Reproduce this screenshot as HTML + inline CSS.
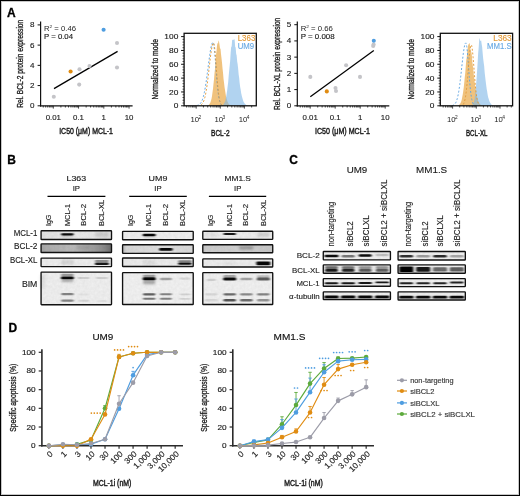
<!DOCTYPE html>
<html><head><meta charset="utf-8"><style>
html,body{margin:0;padding:0;background:#fff;}
body{width:520px;height:496px;overflow:hidden;}
svg{display:block;font-family:"Liberation Sans", sans-serif;will-change:transform;}
</style></head><body>
<svg width="520" height="496" viewBox="0 0 520 496">
<defs><filter id="bl" x="-50%" y="-300%" width="200%" height="700%"><feGaussianBlur stdDeviation="0.9 0.65"/></filter><filter id="bl2" x="-50%" y="-300%" width="200%" height="700%"><feGaussianBlur stdDeviation="1.2 1.0"/></filter><filter id="tex" x="0" y="0" width="100%" height="100%"><feTurbulence type="fractalNoise" baseFrequency="0.35" numOctaves="2" seed="4"/><feColorMatrix values="0 0 0 0 0  0 0 0 0 0  0 0 0 0 0  0 0 0 0.18 0"/><feComposite in2="SourceGraphic" operator="in"/></filter></defs>
<rect x="0" y="0" width="520" height="496" fill="#fff"/>
<text x="7.10" y="17.30" font-size="12.0" text-anchor="start" fill="#000" font-weight="bold" stroke="#000" stroke-width="0.3">A</text>
<text x="7.20" y="164.40" font-size="12.0" text-anchor="start" fill="#000" font-weight="bold" stroke="#000" stroke-width="0.3">B</text>
<text x="289.20" y="164.40" font-size="12.0" text-anchor="start" fill="#000" font-weight="bold" stroke="#000" stroke-width="0.3">C</text>
<text x="8.40" y="331.70" font-size="12.0" text-anchor="start" fill="#000" font-weight="bold" stroke="#000" stroke-width="0.3">D</text>
<line x1="40.60" y1="21.60" x2="40.60" y2="106.40" stroke="#111" stroke-width="1.2"/>
<line x1="40.00" y1="105.80" x2="132.60" y2="105.80" stroke="#111" stroke-width="1.2"/>
<line x1="37.60" y1="105.80" x2="40.60" y2="105.80" stroke="#111" stroke-width="1"/>
<text x="34.60" y="108.20" font-size="8.1" text-anchor="end" fill="#1c1c1c" font-weight="normal" textLength="4.50" lengthAdjust="spacingAndGlyphs" stroke="#1c1c1c" stroke-width="0.14">0</text>
<line x1="37.60" y1="85.57" x2="40.60" y2="85.57" stroke="#111" stroke-width="1"/>
<text x="34.60" y="87.97" font-size="8.1" text-anchor="end" fill="#1c1c1c" font-weight="normal" textLength="4.50" lengthAdjust="spacingAndGlyphs" stroke="#1c1c1c" stroke-width="0.14">2</text>
<line x1="37.60" y1="65.35" x2="40.60" y2="65.35" stroke="#111" stroke-width="1"/>
<text x="34.60" y="67.75" font-size="8.1" text-anchor="end" fill="#1c1c1c" font-weight="normal" textLength="4.50" lengthAdjust="spacingAndGlyphs" stroke="#1c1c1c" stroke-width="0.14">4</text>
<line x1="37.60" y1="45.12" x2="40.60" y2="45.12" stroke="#111" stroke-width="1"/>
<text x="34.60" y="47.52" font-size="8.1" text-anchor="end" fill="#1c1c1c" font-weight="normal" textLength="4.50" lengthAdjust="spacingAndGlyphs" stroke="#1c1c1c" stroke-width="0.14">6</text>
<line x1="37.60" y1="24.90" x2="40.60" y2="24.90" stroke="#111" stroke-width="1"/>
<text x="34.60" y="27.30" font-size="8.1" text-anchor="end" fill="#1c1c1c" font-weight="normal" textLength="4.50" lengthAdjust="spacingAndGlyphs" stroke="#1c1c1c" stroke-width="0.14">8</text>
<line x1="43.25" y1="105.80" x2="43.25" y2="107.50" stroke="#111" stroke-width="0.8"/>
<line x1="45.70" y1="105.80" x2="45.70" y2="107.50" stroke="#111" stroke-width="0.8"/>
<line x1="47.70" y1="105.80" x2="47.70" y2="107.50" stroke="#111" stroke-width="0.8"/>
<line x1="49.39" y1="105.80" x2="49.39" y2="107.50" stroke="#111" stroke-width="0.8"/>
<line x1="50.85" y1="105.80" x2="50.85" y2="107.50" stroke="#111" stroke-width="0.8"/>
<line x1="52.14" y1="105.80" x2="52.14" y2="107.50" stroke="#111" stroke-width="0.8"/>
<line x1="53.30" y1="105.80" x2="53.30" y2="108.60" stroke="#111" stroke-width="0.8"/>
<line x1="60.90" y1="105.80" x2="60.90" y2="107.50" stroke="#111" stroke-width="0.8"/>
<line x1="65.35" y1="105.80" x2="65.35" y2="107.50" stroke="#111" stroke-width="0.8"/>
<line x1="68.50" y1="105.80" x2="68.50" y2="107.50" stroke="#111" stroke-width="0.8"/>
<line x1="70.95" y1="105.80" x2="70.95" y2="107.50" stroke="#111" stroke-width="0.8"/>
<line x1="72.95" y1="105.80" x2="72.95" y2="107.50" stroke="#111" stroke-width="0.8"/>
<line x1="74.64" y1="105.80" x2="74.64" y2="107.50" stroke="#111" stroke-width="0.8"/>
<line x1="76.10" y1="105.80" x2="76.10" y2="107.50" stroke="#111" stroke-width="0.8"/>
<line x1="77.39" y1="105.80" x2="77.39" y2="107.50" stroke="#111" stroke-width="0.8"/>
<line x1="78.55" y1="105.80" x2="78.55" y2="108.60" stroke="#111" stroke-width="0.8"/>
<line x1="86.15" y1="105.80" x2="86.15" y2="107.50" stroke="#111" stroke-width="0.8"/>
<line x1="90.60" y1="105.80" x2="90.60" y2="107.50" stroke="#111" stroke-width="0.8"/>
<line x1="93.75" y1="105.80" x2="93.75" y2="107.50" stroke="#111" stroke-width="0.8"/>
<line x1="96.20" y1="105.80" x2="96.20" y2="107.50" stroke="#111" stroke-width="0.8"/>
<line x1="98.20" y1="105.80" x2="98.20" y2="107.50" stroke="#111" stroke-width="0.8"/>
<line x1="99.89" y1="105.80" x2="99.89" y2="107.50" stroke="#111" stroke-width="0.8"/>
<line x1="101.35" y1="105.80" x2="101.35" y2="107.50" stroke="#111" stroke-width="0.8"/>
<line x1="102.64" y1="105.80" x2="102.64" y2="107.50" stroke="#111" stroke-width="0.8"/>
<line x1="103.80" y1="105.80" x2="103.80" y2="108.60" stroke="#111" stroke-width="0.8"/>
<line x1="111.40" y1="105.80" x2="111.40" y2="107.50" stroke="#111" stroke-width="0.8"/>
<line x1="115.85" y1="105.80" x2="115.85" y2="107.50" stroke="#111" stroke-width="0.8"/>
<line x1="119.00" y1="105.80" x2="119.00" y2="107.50" stroke="#111" stroke-width="0.8"/>
<line x1="121.45" y1="105.80" x2="121.45" y2="107.50" stroke="#111" stroke-width="0.8"/>
<line x1="123.45" y1="105.80" x2="123.45" y2="107.50" stroke="#111" stroke-width="0.8"/>
<line x1="125.14" y1="105.80" x2="125.14" y2="107.50" stroke="#111" stroke-width="0.8"/>
<line x1="126.60" y1="105.80" x2="126.60" y2="107.50" stroke="#111" stroke-width="0.8"/>
<line x1="127.89" y1="105.80" x2="127.89" y2="107.50" stroke="#111" stroke-width="0.8"/>
<line x1="129.05" y1="105.80" x2="129.05" y2="108.60" stroke="#111" stroke-width="0.8"/>
<text x="53.30" y="119.80" font-size="8.1" text-anchor="middle" fill="#1c1c1c" font-weight="normal" textLength="15.29" lengthAdjust="spacingAndGlyphs" stroke="#1c1c1c" stroke-width="0.14">0.01</text>
<text x="78.55" y="119.80" font-size="8.1" text-anchor="middle" fill="#1c1c1c" font-weight="normal" textLength="10.92" lengthAdjust="spacingAndGlyphs" stroke="#1c1c1c" stroke-width="0.14">0.1</text>
<text x="103.80" y="119.80" font-size="8.1" text-anchor="middle" fill="#1c1c1c" font-weight="normal" textLength="4.37" lengthAdjust="spacingAndGlyphs" stroke="#1c1c1c" stroke-width="0.14">1</text>
<text x="129.05" y="119.80" font-size="8.1" text-anchor="middle" fill="#1c1c1c" font-weight="normal" textLength="8.74" lengthAdjust="spacingAndGlyphs" stroke="#1c1c1c" stroke-width="0.14">10</text>
<text x="86.10" y="133.60" font-size="9.2" text-anchor="middle" fill="#1c1c1c" font-weight="normal" textLength="53.80" lengthAdjust="spacingAndGlyphs" stroke="#1c1c1c" stroke-width="0.45">IC50 (μM) MCL-1</text>
<text x="23.40" y="63.80" font-size="8.9" text-anchor="middle" fill="#1c1c1c" font-weight="normal" textLength="88.00" lengthAdjust="spacingAndGlyphs" stroke="#1c1c1c" stroke-width="0.32" transform="rotate(-90 23.4 63.8)">Rel. BCL-2 protein expression</text>
<text x="44.00" y="30.6" font-size="7.1" fill="#1c1c1c" textLength="32" lengthAdjust="spacingAndGlyphs">R<tspan font-size="4.4" dy="-2.9">2</tspan><tspan dy="2.9"> = 0.46</tspan></text>
<text x="44.00" y="38.90" font-size="7.1" text-anchor="start" fill="#1c1c1c" font-weight="normal" textLength="29.00" lengthAdjust="spacingAndGlyphs" stroke="#1c1c1c" stroke-width="0.14">P = 0.04</text>
<line x1="54.00" y1="88.60" x2="117.60" y2="51.40" stroke="#000" stroke-width="1.25"/>
<circle cx="117.00" cy="43.00" r="2.05" fill="#C4C4C8"/>
<circle cx="117.00" cy="67.50" r="2.05" fill="#C4C4C8"/>
<circle cx="89.50" cy="66.00" r="2.05" fill="#C4C4C8"/>
<circle cx="79.50" cy="69.20" r="2.05" fill="#C4C4C8"/>
<circle cx="79.20" cy="84.60" r="2.05" fill="#C4C4C8"/>
<circle cx="53.80" cy="96.70" r="2.05" fill="#C4C4C8"/>
<circle cx="70.60" cy="71.50" r="2.05" fill="#E08C12"/>
<circle cx="103.60" cy="29.80" r="2.05" fill="#4E9DE0"/>
<line x1="297.30" y1="21.60" x2="297.30" y2="106.40" stroke="#111" stroke-width="1.2"/>
<line x1="296.70" y1="105.80" x2="389.30" y2="105.80" stroke="#111" stroke-width="1.2"/>
<line x1="294.30" y1="105.80" x2="297.30" y2="105.80" stroke="#111" stroke-width="1"/>
<text x="291.30" y="108.20" font-size="8.1" text-anchor="end" fill="#1c1c1c" font-weight="normal" textLength="4.50" lengthAdjust="spacingAndGlyphs" stroke="#1c1c1c" stroke-width="0.14">0</text>
<line x1="294.30" y1="89.58" x2="297.30" y2="89.58" stroke="#111" stroke-width="1"/>
<text x="291.30" y="91.98" font-size="8.1" text-anchor="end" fill="#1c1c1c" font-weight="normal" textLength="4.50" lengthAdjust="spacingAndGlyphs" stroke="#1c1c1c" stroke-width="0.14">1</text>
<line x1="294.30" y1="73.36" x2="297.30" y2="73.36" stroke="#111" stroke-width="1"/>
<text x="291.30" y="75.76" font-size="8.1" text-anchor="end" fill="#1c1c1c" font-weight="normal" textLength="4.50" lengthAdjust="spacingAndGlyphs" stroke="#1c1c1c" stroke-width="0.14">2</text>
<line x1="294.30" y1="57.14" x2="297.30" y2="57.14" stroke="#111" stroke-width="1"/>
<text x="291.30" y="59.54" font-size="8.1" text-anchor="end" fill="#1c1c1c" font-weight="normal" textLength="4.50" lengthAdjust="spacingAndGlyphs" stroke="#1c1c1c" stroke-width="0.14">3</text>
<line x1="294.30" y1="40.92" x2="297.30" y2="40.92" stroke="#111" stroke-width="1"/>
<text x="291.30" y="43.32" font-size="8.1" text-anchor="end" fill="#1c1c1c" font-weight="normal" textLength="4.50" lengthAdjust="spacingAndGlyphs" stroke="#1c1c1c" stroke-width="0.14">4</text>
<line x1="294.30" y1="24.70" x2="297.30" y2="24.70" stroke="#111" stroke-width="1"/>
<text x="291.30" y="27.10" font-size="8.1" text-anchor="end" fill="#1c1c1c" font-weight="normal" textLength="4.50" lengthAdjust="spacingAndGlyphs" stroke="#1c1c1c" stroke-width="0.14">5</text>
<line x1="300.25" y1="105.80" x2="300.25" y2="107.50" stroke="#111" stroke-width="0.8"/>
<line x1="302.67" y1="105.80" x2="302.67" y2="107.50" stroke="#111" stroke-width="0.8"/>
<line x1="304.65" y1="105.80" x2="304.65" y2="107.50" stroke="#111" stroke-width="0.8"/>
<line x1="306.33" y1="105.80" x2="306.33" y2="107.50" stroke="#111" stroke-width="0.8"/>
<line x1="307.78" y1="105.80" x2="307.78" y2="107.50" stroke="#111" stroke-width="0.8"/>
<line x1="309.06" y1="105.80" x2="309.06" y2="107.50" stroke="#111" stroke-width="0.8"/>
<line x1="310.20" y1="105.80" x2="310.20" y2="108.60" stroke="#111" stroke-width="0.8"/>
<line x1="317.73" y1="105.80" x2="317.73" y2="107.50" stroke="#111" stroke-width="0.8"/>
<line x1="322.13" y1="105.80" x2="322.13" y2="107.50" stroke="#111" stroke-width="0.8"/>
<line x1="325.25" y1="105.80" x2="325.25" y2="107.50" stroke="#111" stroke-width="0.8"/>
<line x1="327.67" y1="105.80" x2="327.67" y2="107.50" stroke="#111" stroke-width="0.8"/>
<line x1="329.65" y1="105.80" x2="329.65" y2="107.50" stroke="#111" stroke-width="0.8"/>
<line x1="331.33" y1="105.80" x2="331.33" y2="107.50" stroke="#111" stroke-width="0.8"/>
<line x1="332.78" y1="105.80" x2="332.78" y2="107.50" stroke="#111" stroke-width="0.8"/>
<line x1="334.06" y1="105.80" x2="334.06" y2="107.50" stroke="#111" stroke-width="0.8"/>
<line x1="335.20" y1="105.80" x2="335.20" y2="108.60" stroke="#111" stroke-width="0.8"/>
<line x1="342.73" y1="105.80" x2="342.73" y2="107.50" stroke="#111" stroke-width="0.8"/>
<line x1="347.13" y1="105.80" x2="347.13" y2="107.50" stroke="#111" stroke-width="0.8"/>
<line x1="350.25" y1="105.80" x2="350.25" y2="107.50" stroke="#111" stroke-width="0.8"/>
<line x1="352.67" y1="105.80" x2="352.67" y2="107.50" stroke="#111" stroke-width="0.8"/>
<line x1="354.65" y1="105.80" x2="354.65" y2="107.50" stroke="#111" stroke-width="0.8"/>
<line x1="356.33" y1="105.80" x2="356.33" y2="107.50" stroke="#111" stroke-width="0.8"/>
<line x1="357.78" y1="105.80" x2="357.78" y2="107.50" stroke="#111" stroke-width="0.8"/>
<line x1="359.06" y1="105.80" x2="359.06" y2="107.50" stroke="#111" stroke-width="0.8"/>
<line x1="360.20" y1="105.80" x2="360.20" y2="108.60" stroke="#111" stroke-width="0.8"/>
<line x1="367.73" y1="105.80" x2="367.73" y2="107.50" stroke="#111" stroke-width="0.8"/>
<line x1="372.13" y1="105.80" x2="372.13" y2="107.50" stroke="#111" stroke-width="0.8"/>
<line x1="375.25" y1="105.80" x2="375.25" y2="107.50" stroke="#111" stroke-width="0.8"/>
<line x1="377.67" y1="105.80" x2="377.67" y2="107.50" stroke="#111" stroke-width="0.8"/>
<line x1="379.65" y1="105.80" x2="379.65" y2="107.50" stroke="#111" stroke-width="0.8"/>
<line x1="381.33" y1="105.80" x2="381.33" y2="107.50" stroke="#111" stroke-width="0.8"/>
<line x1="382.78" y1="105.80" x2="382.78" y2="107.50" stroke="#111" stroke-width="0.8"/>
<line x1="384.06" y1="105.80" x2="384.06" y2="107.50" stroke="#111" stroke-width="0.8"/>
<line x1="385.20" y1="105.80" x2="385.20" y2="108.60" stroke="#111" stroke-width="0.8"/>
<text x="310.20" y="119.80" font-size="8.1" text-anchor="middle" fill="#1c1c1c" font-weight="normal" textLength="15.29" lengthAdjust="spacingAndGlyphs" stroke="#1c1c1c" stroke-width="0.14">0.01</text>
<text x="335.20" y="119.80" font-size="8.1" text-anchor="middle" fill="#1c1c1c" font-weight="normal" textLength="10.92" lengthAdjust="spacingAndGlyphs" stroke="#1c1c1c" stroke-width="0.14">0.1</text>
<text x="360.20" y="119.80" font-size="8.1" text-anchor="middle" fill="#1c1c1c" font-weight="normal" textLength="4.37" lengthAdjust="spacingAndGlyphs" stroke="#1c1c1c" stroke-width="0.14">1</text>
<text x="385.20" y="119.80" font-size="8.1" text-anchor="middle" fill="#1c1c1c" font-weight="normal" textLength="8.74" lengthAdjust="spacingAndGlyphs" stroke="#1c1c1c" stroke-width="0.14">10</text>
<text x="342.50" y="133.60" font-size="9.2" text-anchor="middle" fill="#1c1c1c" font-weight="normal" textLength="55.00" lengthAdjust="spacingAndGlyphs" stroke="#1c1c1c" stroke-width="0.45">IC50 (μM) MCL-1</text>
<text x="280.30" y="63.80" font-size="8.9" text-anchor="middle" fill="#1c1c1c" font-weight="normal" textLength="92.20" lengthAdjust="spacingAndGlyphs" stroke="#1c1c1c" stroke-width="0.32" transform="rotate(-90 280.3 63.8)">Rel. BCL-XL protein expression</text>
<text x="300.70" y="30.6" font-size="7.1" fill="#1c1c1c" textLength="32.2" lengthAdjust="spacingAndGlyphs">R<tspan font-size="4.4" dy="-2.9">2</tspan><tspan dy="2.9"> = 0.66</tspan></text>
<text x="300.70" y="38.90" font-size="7.1" text-anchor="start" fill="#1c1c1c" font-weight="normal" textLength="34.00" lengthAdjust="spacingAndGlyphs" stroke="#1c1c1c" stroke-width="0.14">P = 0.008</text>
<line x1="310.30" y1="96.70" x2="373.80" y2="50.40" stroke="#000" stroke-width="1.25"/>
<circle cx="373.20" cy="46.00" r="2.05" fill="#C4C4C8"/>
<circle cx="373.60" cy="44.60" r="2.05" fill="#C4C4C8"/>
<circle cx="346.10" cy="65.30" r="2.05" fill="#C4C4C8"/>
<circle cx="360.00" cy="76.90" r="2.05" fill="#C4C4C8"/>
<circle cx="310.30" cy="76.90" r="2.05" fill="#C4C4C8"/>
<circle cx="335.50" cy="88.00" r="2.05" fill="#C4C4C8"/>
<circle cx="336.00" cy="91.00" r="2.05" fill="#C4C4C8"/>
<circle cx="326.80" cy="91.40" r="2.05" fill="#E08C12"/>
<circle cx="373.80" cy="40.80" r="2.05" fill="#4E9DE0"/>
<path d="M207.51 105.80 L207.51 105.53 L208.01 105.34 L208.51 105.08 L209.01 104.67 L209.51 104.07 L210.01 103.33 L210.51 102.23 L211.01 100.42 L211.51 98.63 L212.01 96.09 L212.51 92.23 L213.01 88.84 L213.51 83.78 L214.01 79.22 L214.51 73.29 L215.01 68.68 L215.51 61.43 L216.01 54.90 L216.51 50.97 L217.01 45.78 L217.51 42.86 L218.01 43.70 L218.51 40.16 L219.01 41.68 L219.51 44.72 L220.01 48.51 L220.51 48.66 L221.01 54.34 L221.51 58.15 L222.01 62.66 L222.51 68.23 L223.01 72.78 L223.51 78.66 L224.01 82.40 L224.51 86.97 L225.01 89.99 L225.51 93.23 L226.01 96.46 L226.51 98.57 L227.01 100.27 L227.51 101.45 L228.01 102.72 L228.51 103.54 L229.01 104.23 L229.51 104.68 L230.01 105.04 L230.51 105.29 L231.01 105.45 L231.01 105.80 Z" fill="#E9A53F" fill-opacity="0.68" stroke="none"/>
<path d="M221.65 105.80 L221.65 105.51 L222.15 105.33 L222.65 105.07 L223.15 104.68 L223.65 104.13 L224.15 103.34 L224.65 102.35 L225.15 101.13 L225.65 99.05 L226.15 96.65 L226.65 93.77 L227.15 90.60 L227.65 86.34 L228.15 82.48 L228.65 76.18 L229.15 71.12 L229.65 66.11 L230.15 61.10 L230.65 52.83 L231.15 47.08 L231.65 46.46 L232.15 40.01 L232.65 39.64 L233.15 40.05 L233.65 39.72 L234.15 38.71 L234.65 40.30 L235.15 46.65 L235.65 47.62 L236.15 53.68 L236.65 55.48 L237.15 61.29 L237.65 64.31 L238.15 68.80 L238.65 74.49 L239.15 77.84 L239.65 83.09 L240.15 87.01 L240.65 89.61 L241.15 93.06 L241.65 95.37 L242.15 97.34 L242.65 99.03 L243.15 100.70 L243.65 101.91 L244.15 102.68 L244.65 103.55 L245.15 104.06 L245.65 104.54 L246.15 104.92 L246.65 105.17 L247.15 105.36 L247.65 105.49 L247.65 105.80 Z" fill="#7DB5E6" fill-opacity="0.6" stroke="none"/>
<path d="M196.83 105.53 L197.33 105.42 L197.83 105.27 L198.33 105.08 L198.83 104.83 L199.33 104.50 L199.83 104.09 L200.33 103.56 L200.83 102.89 L201.33 102.08 L201.83 101.08 L202.33 99.87 L202.83 98.43 L203.33 96.74 L203.83 94.78 L204.33 92.53 L204.83 89.98 L205.33 87.15 L205.83 84.03 L206.33 80.66 L206.83 77.06 L207.33 73.29 L207.83 69.41 L208.33 65.48 L208.83 61.59 L209.33 57.83 L209.83 54.29 L210.33 51.06 L210.83 48.23 L211.33 45.88 L211.83 44.08 L212.33 42.89 L212.83 42.34 L213.33 42.71 L213.83 44.85 L214.33 48.64 L214.83 53.76 L215.33 59.82 L215.83 66.36 L216.33 72.96 L216.83 79.25 L217.33 84.97 L217.83 89.94 L218.33 94.07 L218.83 97.38 L219.33 99.94 L219.83 101.83 L220.33 103.20 L220.83 104.14 L221.33 104.77 L221.83 105.18 L222.33 105.44" fill="none" stroke="#5CA2E2" stroke-width="0.95" stroke-dasharray="1.9 1.9" stroke-dashoffset="0"/>
<path d="M199.31 105.53 L199.81 105.40 L200.31 105.23 L200.81 104.99 L201.31 104.67 L201.81 104.24 L202.31 103.67 L202.81 102.94 L203.31 102.01 L203.81 100.83 L204.31 99.39 L204.81 97.64 L205.31 95.55 L205.81 93.09 L206.31 90.26 L206.81 87.05 L207.31 83.48 L207.81 79.59 L208.31 75.44 L208.81 71.10 L209.31 66.67 L209.81 62.27 L210.31 58.03 L210.81 54.08 L211.31 50.55 L211.81 47.58 L212.31 45.26 L212.81 43.70 L213.31 42.96 L213.81 43.28 L214.31 45.48 L214.81 49.42 L215.31 54.76 L215.81 61.04 L216.31 67.79 L216.81 74.53 L217.31 80.88 L217.81 86.56 L218.31 91.42 L218.81 95.38 L219.31 98.49 L219.81 100.84 L220.31 102.53 L220.81 103.72 L221.31 104.51 L221.81 105.03 L222.31 105.35" fill="none" stroke="#E39A38" stroke-width="0.95" stroke-dasharray="1.9 1.9" stroke-dashoffset="1.9"/>
<rect x="184.1" y="33.3" width="72.20000000000002" height="72.5" fill="none" stroke="#111" stroke-width="1.3"/>
<line x1="181.10" y1="105.80" x2="184.10" y2="105.80" stroke="#111" stroke-width="1.0"/>
<text x="178.30" y="108.45" font-size="7.4" text-anchor="end" fill="#1c1c1c" font-weight="normal" textLength="4.65" lengthAdjust="spacingAndGlyphs" stroke="#1c1c1c" stroke-width="0.14">0</text>
<line x1="182.50" y1="103.03" x2="184.10" y2="103.03" stroke="#111" stroke-width="0.7"/>
<line x1="182.50" y1="100.26" x2="184.10" y2="100.26" stroke="#111" stroke-width="0.7"/>
<line x1="182.50" y1="97.50" x2="184.10" y2="97.50" stroke="#111" stroke-width="0.7"/>
<line x1="182.50" y1="94.73" x2="184.10" y2="94.73" stroke="#111" stroke-width="0.7"/>
<line x1="181.10" y1="91.96" x2="184.10" y2="91.96" stroke="#111" stroke-width="1.0"/>
<text x="178.30" y="94.61" font-size="7.4" text-anchor="end" fill="#1c1c1c" font-weight="normal" textLength="9.30" lengthAdjust="spacingAndGlyphs" stroke="#1c1c1c" stroke-width="0.14">20</text>
<line x1="182.50" y1="89.19" x2="184.10" y2="89.19" stroke="#111" stroke-width="0.7"/>
<line x1="182.50" y1="86.42" x2="184.10" y2="86.42" stroke="#111" stroke-width="0.7"/>
<line x1="182.50" y1="83.66" x2="184.10" y2="83.66" stroke="#111" stroke-width="0.7"/>
<line x1="182.50" y1="80.89" x2="184.10" y2="80.89" stroke="#111" stroke-width="0.7"/>
<line x1="181.10" y1="78.12" x2="184.10" y2="78.12" stroke="#111" stroke-width="1.0"/>
<text x="178.30" y="80.77" font-size="7.4" text-anchor="end" fill="#1c1c1c" font-weight="normal" textLength="9.30" lengthAdjust="spacingAndGlyphs" stroke="#1c1c1c" stroke-width="0.14">40</text>
<line x1="182.50" y1="75.35" x2="184.10" y2="75.35" stroke="#111" stroke-width="0.7"/>
<line x1="182.50" y1="72.58" x2="184.10" y2="72.58" stroke="#111" stroke-width="0.7"/>
<line x1="182.50" y1="69.82" x2="184.10" y2="69.82" stroke="#111" stroke-width="0.7"/>
<line x1="182.50" y1="67.05" x2="184.10" y2="67.05" stroke="#111" stroke-width="0.7"/>
<line x1="181.10" y1="64.28" x2="184.10" y2="64.28" stroke="#111" stroke-width="1.0"/>
<text x="178.30" y="66.93" font-size="7.4" text-anchor="end" fill="#1c1c1c" font-weight="normal" textLength="9.30" lengthAdjust="spacingAndGlyphs" stroke="#1c1c1c" stroke-width="0.14">60</text>
<line x1="182.50" y1="61.51" x2="184.10" y2="61.51" stroke="#111" stroke-width="0.7"/>
<line x1="182.50" y1="58.74" x2="184.10" y2="58.74" stroke="#111" stroke-width="0.7"/>
<line x1="182.50" y1="55.98" x2="184.10" y2="55.98" stroke="#111" stroke-width="0.7"/>
<line x1="182.50" y1="53.21" x2="184.10" y2="53.21" stroke="#111" stroke-width="0.7"/>
<line x1="181.10" y1="50.44" x2="184.10" y2="50.44" stroke="#111" stroke-width="1.0"/>
<text x="178.30" y="53.09" font-size="7.4" text-anchor="end" fill="#1c1c1c" font-weight="normal" textLength="9.30" lengthAdjust="spacingAndGlyphs" stroke="#1c1c1c" stroke-width="0.14">80</text>
<line x1="182.50" y1="47.67" x2="184.10" y2="47.67" stroke="#111" stroke-width="0.7"/>
<line x1="182.50" y1="44.90" x2="184.10" y2="44.90" stroke="#111" stroke-width="0.7"/>
<line x1="182.50" y1="42.14" x2="184.10" y2="42.14" stroke="#111" stroke-width="0.7"/>
<line x1="182.50" y1="39.37" x2="184.10" y2="39.37" stroke="#111" stroke-width="0.7"/>
<line x1="181.10" y1="36.60" x2="184.10" y2="36.60" stroke="#111" stroke-width="1.0"/>
<text x="178.30" y="39.25" font-size="7.4" text-anchor="end" fill="#1c1c1c" font-weight="normal" textLength="13.95" lengthAdjust="spacingAndGlyphs" stroke="#1c1c1c" stroke-width="0.14">100</text>
<line x1="186.61" y1="105.80" x2="186.61" y2="107.50" stroke="#111" stroke-width="0.75"/>
<line x1="188.95" y1="105.80" x2="188.95" y2="107.50" stroke="#111" stroke-width="0.75"/>
<line x1="190.85" y1="105.80" x2="190.85" y2="107.50" stroke="#111" stroke-width="0.75"/>
<line x1="192.47" y1="105.80" x2="192.47" y2="107.50" stroke="#111" stroke-width="0.75"/>
<line x1="193.86" y1="105.80" x2="193.86" y2="107.50" stroke="#111" stroke-width="0.75"/>
<line x1="195.10" y1="105.80" x2="195.10" y2="107.50" stroke="#111" stroke-width="0.75"/>
<line x1="196.20" y1="105.80" x2="196.20" y2="108.60" stroke="#111" stroke-width="0.75"/>
<line x1="203.45" y1="105.80" x2="203.45" y2="107.50" stroke="#111" stroke-width="0.75"/>
<line x1="207.70" y1="105.80" x2="207.70" y2="107.50" stroke="#111" stroke-width="0.75"/>
<line x1="210.71" y1="105.80" x2="210.71" y2="107.50" stroke="#111" stroke-width="0.75"/>
<line x1="213.05" y1="105.80" x2="213.05" y2="107.50" stroke="#111" stroke-width="0.75"/>
<line x1="214.95" y1="105.80" x2="214.95" y2="107.50" stroke="#111" stroke-width="0.75"/>
<line x1="216.57" y1="105.80" x2="216.57" y2="107.50" stroke="#111" stroke-width="0.75"/>
<line x1="217.96" y1="105.80" x2="217.96" y2="107.50" stroke="#111" stroke-width="0.75"/>
<line x1="219.20" y1="105.80" x2="219.20" y2="107.50" stroke="#111" stroke-width="0.75"/>
<line x1="220.30" y1="105.80" x2="220.30" y2="108.60" stroke="#111" stroke-width="0.75"/>
<line x1="227.55" y1="105.80" x2="227.55" y2="107.50" stroke="#111" stroke-width="0.75"/>
<line x1="231.80" y1="105.80" x2="231.80" y2="107.50" stroke="#111" stroke-width="0.75"/>
<line x1="234.81" y1="105.80" x2="234.81" y2="107.50" stroke="#111" stroke-width="0.75"/>
<line x1="237.15" y1="105.80" x2="237.15" y2="107.50" stroke="#111" stroke-width="0.75"/>
<line x1="239.05" y1="105.80" x2="239.05" y2="107.50" stroke="#111" stroke-width="0.75"/>
<line x1="240.67" y1="105.80" x2="240.67" y2="107.50" stroke="#111" stroke-width="0.75"/>
<line x1="242.06" y1="105.80" x2="242.06" y2="107.50" stroke="#111" stroke-width="0.75"/>
<line x1="243.30" y1="105.80" x2="243.30" y2="107.50" stroke="#111" stroke-width="0.75"/>
<line x1="244.40" y1="105.80" x2="244.40" y2="108.60" stroke="#111" stroke-width="0.75"/>
<line x1="251.65" y1="105.80" x2="251.65" y2="107.50" stroke="#111" stroke-width="0.75"/>
<text x="194.80" y="122.3" font-size="7.3" text-anchor="middle" fill="#1c1c1c" textLength="8.6" lengthAdjust="spacingAndGlyphs">10</text>
<text x="199.90" y="119.4" font-size="4.8" text-anchor="middle" fill="#1c1c1c">2</text>
<text x="218.80" y="122.3" font-size="7.3" text-anchor="middle" fill="#1c1c1c" textLength="8.6" lengthAdjust="spacingAndGlyphs">10</text>
<text x="223.90" y="119.4" font-size="4.8" text-anchor="middle" fill="#1c1c1c">3</text>
<text x="243.00" y="122.3" font-size="7.3" text-anchor="middle" fill="#1c1c1c" textLength="8.6" lengthAdjust="spacingAndGlyphs">10</text>
<text x="248.10" y="119.4" font-size="4.8" text-anchor="middle" fill="#1c1c1c">4</text>
<text x="157.80" y="69.30" font-size="8.8" text-anchor="middle" fill="#1c1c1c" font-weight="normal" textLength="60.40" lengthAdjust="spacingAndGlyphs" stroke="#1c1c1c" stroke-width="0.32" transform="rotate(-90 157.79999999999998 69.3)">Normalized to mode</text>
<text x="237.70" y="40.70" font-size="8.2" text-anchor="start" fill="#E39A38" font-weight="normal" textLength="17.60" lengthAdjust="spacingAndGlyphs" stroke="#E39A38" stroke-width="0.14">L363</text>
<text x="237.70" y="49.10" font-size="8.2" text-anchor="start" fill="#6AAAE4" font-weight="normal" textLength="16.40" lengthAdjust="spacingAndGlyphs" stroke="#6AAAE4" stroke-width="0.14">UM9</text>
<text x="220.30" y="136.00" font-size="8.9" text-anchor="middle" fill="#1c1c1c" font-weight="normal" textLength="18.40" lengthAdjust="spacingAndGlyphs" stroke="#1c1c1c" stroke-width="0.45">BCL-2</text>
<path d="M457.78 105.80 L457.78 105.53 L458.28 105.37 L458.78 105.12 L459.28 104.72 L459.78 104.23 L460.28 103.50 L460.78 102.41 L461.28 101.17 L461.78 99.38 L462.28 96.70 L462.78 94.13 L463.28 90.67 L463.78 87.34 L464.28 82.25 L464.78 76.89 L465.28 72.82 L465.78 65.82 L466.28 60.29 L466.78 57.17 L467.28 50.67 L467.78 47.71 L468.28 44.31 L468.78 44.47 L469.28 42.95 L469.78 43.80 L470.28 48.63 L470.78 51.02 L471.28 51.94 L471.78 54.85 L472.28 61.49 L472.78 65.32 L473.28 69.55 L473.78 74.72 L474.28 78.96 L474.78 83.11 L475.28 86.76 L475.78 89.87 L476.28 93.14 L476.78 95.63 L477.28 97.56 L477.78 99.74 L478.28 100.98 L478.78 102.13 L479.28 103.16 L479.78 103.88 L480.28 104.36 L480.78 104.82 L481.28 105.12 L481.78 105.32 L482.28 105.47 L482.28 105.80 Z" fill="#E9A53F" fill-opacity="0.68" stroke="none"/>
<path d="M471.65 105.80 L471.65 105.52 L472.15 105.26 L472.65 104.81 L473.15 104.01 L473.65 102.87 L474.15 100.93 L474.65 98.59 L475.15 94.92 L475.65 89.86 L476.15 83.50 L476.65 77.16 L477.15 69.97 L477.65 62.36 L478.15 53.33 L478.65 48.04 L479.15 40.47 L479.65 37.66 L480.15 40.50 L480.65 41.03 L481.15 40.56 L481.65 44.12 L482.15 47.02 L482.65 52.95 L483.15 58.20 L483.65 62.41 L484.15 65.90 L484.65 72.15 L485.15 76.65 L485.65 80.92 L486.15 84.98 L486.65 88.66 L487.15 91.38 L487.65 94.86 L488.15 97.27 L488.65 98.73 L489.15 100.41 L489.65 101.71 L490.15 102.87 L490.65 103.58 L491.15 104.20 L491.65 104.72 L492.15 105.02 L492.65 105.26 L493.15 105.43 L493.15 105.80 Z" fill="#7DB5E6" fill-opacity="0.6" stroke="none"/>
<path d="M452.27 105.53 L452.77 105.40 L453.27 105.21 L453.77 104.95 L454.27 104.59 L454.77 104.11 L455.27 103.48 L455.77 102.64 L456.27 101.58 L456.77 100.24 L457.27 98.58 L457.77 96.56 L458.27 94.15 L458.77 91.34 L459.27 88.11 L459.77 84.47 L460.27 80.47 L460.77 76.16 L461.27 71.64 L461.77 67.00 L462.27 62.38 L462.77 57.93 L463.27 53.80 L463.77 50.16 L464.27 47.13 L464.77 44.85 L465.27 43.42 L465.77 42.90 L466.27 43.78 L466.77 46.56 L467.27 51.00 L467.77 56.69 L468.27 63.17 L468.77 69.96 L469.27 76.62 L469.77 82.78 L470.27 88.21 L470.77 92.78 L471.27 96.47 L471.77 99.32 L472.27 101.44 L472.77 102.96 L473.27 104.01 L473.77 104.71 L474.27 105.15 L474.77 105.43" fill="none" stroke="#5CA2E2" stroke-width="0.95" stroke-dasharray="1.9 1.9" stroke-dashoffset="0"/>
<path d="M461.63 105.54 L462.13 105.34 L462.63 105.03 L463.13 104.53 L463.63 103.78 L464.13 102.68 L464.63 101.11 L465.13 98.98 L465.63 96.16 L466.13 92.57 L466.63 88.18 L467.13 83.02 L467.63 77.21 L468.13 70.97 L468.63 64.61 L469.13 58.52 L469.63 53.12 L470.13 48.81 L470.63 45.97 L471.13 44.82 L471.63 45.52 L472.13 48.07 L472.63 52.26 L473.13 57.70 L473.63 63.94 L474.13 70.52 L474.63 76.99 L475.13 83.02 L475.63 88.35 L476.13 92.85 L476.63 96.50 L477.13 99.32 L477.63 101.43 L478.13 102.95 L478.63 104.00 L479.13 104.69 L479.63 105.14 L480.13 105.42" fill="none" stroke="#E39A38" stroke-width="0.95" stroke-dasharray="1.9 1.9" stroke-dashoffset="1.9"/>
<rect x="440.3" y="33.3" width="72.30000000000001" height="72.5" fill="none" stroke="#111" stroke-width="1.3"/>
<line x1="437.30" y1="105.80" x2="440.30" y2="105.80" stroke="#111" stroke-width="1.0"/>
<text x="434.50" y="108.45" font-size="7.4" text-anchor="end" fill="#1c1c1c" font-weight="normal" textLength="4.65" lengthAdjust="spacingAndGlyphs" stroke="#1c1c1c" stroke-width="0.14">0</text>
<line x1="438.70" y1="103.03" x2="440.30" y2="103.03" stroke="#111" stroke-width="0.7"/>
<line x1="438.70" y1="100.26" x2="440.30" y2="100.26" stroke="#111" stroke-width="0.7"/>
<line x1="438.70" y1="97.50" x2="440.30" y2="97.50" stroke="#111" stroke-width="0.7"/>
<line x1="438.70" y1="94.73" x2="440.30" y2="94.73" stroke="#111" stroke-width="0.7"/>
<line x1="437.30" y1="91.96" x2="440.30" y2="91.96" stroke="#111" stroke-width="1.0"/>
<text x="434.50" y="94.61" font-size="7.4" text-anchor="end" fill="#1c1c1c" font-weight="normal" textLength="9.30" lengthAdjust="spacingAndGlyphs" stroke="#1c1c1c" stroke-width="0.14">20</text>
<line x1="438.70" y1="89.19" x2="440.30" y2="89.19" stroke="#111" stroke-width="0.7"/>
<line x1="438.70" y1="86.42" x2="440.30" y2="86.42" stroke="#111" stroke-width="0.7"/>
<line x1="438.70" y1="83.66" x2="440.30" y2="83.66" stroke="#111" stroke-width="0.7"/>
<line x1="438.70" y1="80.89" x2="440.30" y2="80.89" stroke="#111" stroke-width="0.7"/>
<line x1="437.30" y1="78.12" x2="440.30" y2="78.12" stroke="#111" stroke-width="1.0"/>
<text x="434.50" y="80.77" font-size="7.4" text-anchor="end" fill="#1c1c1c" font-weight="normal" textLength="9.30" lengthAdjust="spacingAndGlyphs" stroke="#1c1c1c" stroke-width="0.14">40</text>
<line x1="438.70" y1="75.35" x2="440.30" y2="75.35" stroke="#111" stroke-width="0.7"/>
<line x1="438.70" y1="72.58" x2="440.30" y2="72.58" stroke="#111" stroke-width="0.7"/>
<line x1="438.70" y1="69.82" x2="440.30" y2="69.82" stroke="#111" stroke-width="0.7"/>
<line x1="438.70" y1="67.05" x2="440.30" y2="67.05" stroke="#111" stroke-width="0.7"/>
<line x1="437.30" y1="64.28" x2="440.30" y2="64.28" stroke="#111" stroke-width="1.0"/>
<text x="434.50" y="66.93" font-size="7.4" text-anchor="end" fill="#1c1c1c" font-weight="normal" textLength="9.30" lengthAdjust="spacingAndGlyphs" stroke="#1c1c1c" stroke-width="0.14">60</text>
<line x1="438.70" y1="61.51" x2="440.30" y2="61.51" stroke="#111" stroke-width="0.7"/>
<line x1="438.70" y1="58.74" x2="440.30" y2="58.74" stroke="#111" stroke-width="0.7"/>
<line x1="438.70" y1="55.98" x2="440.30" y2="55.98" stroke="#111" stroke-width="0.7"/>
<line x1="438.70" y1="53.21" x2="440.30" y2="53.21" stroke="#111" stroke-width="0.7"/>
<line x1="437.30" y1="50.44" x2="440.30" y2="50.44" stroke="#111" stroke-width="1.0"/>
<text x="434.50" y="53.09" font-size="7.4" text-anchor="end" fill="#1c1c1c" font-weight="normal" textLength="9.30" lengthAdjust="spacingAndGlyphs" stroke="#1c1c1c" stroke-width="0.14">80</text>
<line x1="438.70" y1="47.67" x2="440.30" y2="47.67" stroke="#111" stroke-width="0.7"/>
<line x1="438.70" y1="44.90" x2="440.30" y2="44.90" stroke="#111" stroke-width="0.7"/>
<line x1="438.70" y1="42.14" x2="440.30" y2="42.14" stroke="#111" stroke-width="0.7"/>
<line x1="438.70" y1="39.37" x2="440.30" y2="39.37" stroke="#111" stroke-width="0.7"/>
<line x1="437.30" y1="36.60" x2="440.30" y2="36.60" stroke="#111" stroke-width="1.0"/>
<text x="434.50" y="39.25" font-size="7.4" text-anchor="end" fill="#1c1c1c" font-weight="normal" textLength="13.95" lengthAdjust="spacingAndGlyphs" stroke="#1c1c1c" stroke-width="0.14">100</text>
<line x1="443.17" y1="105.80" x2="443.17" y2="107.50" stroke="#111" stroke-width="0.75"/>
<line x1="445.47" y1="105.80" x2="445.47" y2="107.50" stroke="#111" stroke-width="0.75"/>
<line x1="447.34" y1="105.80" x2="447.34" y2="107.50" stroke="#111" stroke-width="0.75"/>
<line x1="448.93" y1="105.80" x2="448.93" y2="107.50" stroke="#111" stroke-width="0.75"/>
<line x1="450.30" y1="105.80" x2="450.30" y2="107.50" stroke="#111" stroke-width="0.75"/>
<line x1="451.52" y1="105.80" x2="451.52" y2="107.50" stroke="#111" stroke-width="0.75"/>
<line x1="452.60" y1="105.80" x2="452.60" y2="108.60" stroke="#111" stroke-width="0.75"/>
<line x1="459.73" y1="105.80" x2="459.73" y2="107.50" stroke="#111" stroke-width="0.75"/>
<line x1="463.91" y1="105.80" x2="463.91" y2="107.50" stroke="#111" stroke-width="0.75"/>
<line x1="466.87" y1="105.80" x2="466.87" y2="107.50" stroke="#111" stroke-width="0.75"/>
<line x1="469.17" y1="105.80" x2="469.17" y2="107.50" stroke="#111" stroke-width="0.75"/>
<line x1="471.04" y1="105.80" x2="471.04" y2="107.50" stroke="#111" stroke-width="0.75"/>
<line x1="472.63" y1="105.80" x2="472.63" y2="107.50" stroke="#111" stroke-width="0.75"/>
<line x1="474.00" y1="105.80" x2="474.00" y2="107.50" stroke="#111" stroke-width="0.75"/>
<line x1="475.22" y1="105.80" x2="475.22" y2="107.50" stroke="#111" stroke-width="0.75"/>
<line x1="476.30" y1="105.80" x2="476.30" y2="108.60" stroke="#111" stroke-width="0.75"/>
<line x1="483.43" y1="105.80" x2="483.43" y2="107.50" stroke="#111" stroke-width="0.75"/>
<line x1="487.61" y1="105.80" x2="487.61" y2="107.50" stroke="#111" stroke-width="0.75"/>
<line x1="490.57" y1="105.80" x2="490.57" y2="107.50" stroke="#111" stroke-width="0.75"/>
<line x1="492.87" y1="105.80" x2="492.87" y2="107.50" stroke="#111" stroke-width="0.75"/>
<line x1="494.74" y1="105.80" x2="494.74" y2="107.50" stroke="#111" stroke-width="0.75"/>
<line x1="496.33" y1="105.80" x2="496.33" y2="107.50" stroke="#111" stroke-width="0.75"/>
<line x1="497.70" y1="105.80" x2="497.70" y2="107.50" stroke="#111" stroke-width="0.75"/>
<line x1="498.92" y1="105.80" x2="498.92" y2="107.50" stroke="#111" stroke-width="0.75"/>
<line x1="500.00" y1="105.80" x2="500.00" y2="108.60" stroke="#111" stroke-width="0.75"/>
<line x1="507.13" y1="105.80" x2="507.13" y2="107.50" stroke="#111" stroke-width="0.75"/>
<line x1="511.31" y1="105.80" x2="511.31" y2="107.50" stroke="#111" stroke-width="0.75"/>
<text x="451.20" y="122.3" font-size="7.3" text-anchor="middle" fill="#1c1c1c" textLength="8.6" lengthAdjust="spacingAndGlyphs">10</text>
<text x="456.30" y="119.4" font-size="4.8" text-anchor="middle" fill="#1c1c1c">2</text>
<text x="474.80" y="122.3" font-size="7.3" text-anchor="middle" fill="#1c1c1c" textLength="8.6" lengthAdjust="spacingAndGlyphs">10</text>
<text x="479.90" y="119.4" font-size="4.8" text-anchor="middle" fill="#1c1c1c">3</text>
<text x="498.60" y="122.3" font-size="7.3" text-anchor="middle" fill="#1c1c1c" textLength="8.6" lengthAdjust="spacingAndGlyphs">10</text>
<text x="503.70" y="119.4" font-size="4.8" text-anchor="middle" fill="#1c1c1c">4</text>
<text x="414.00" y="69.30" font-size="8.8" text-anchor="middle" fill="#1c1c1c" font-weight="normal" textLength="60.40" lengthAdjust="spacingAndGlyphs" stroke="#1c1c1c" stroke-width="0.32" transform="rotate(-90 414.0 69.3)">Normalized to mode</text>
<text x="511.70" y="40.70" font-size="8.2" text-anchor="end" fill="#E39A38" font-weight="normal" textLength="18.40" lengthAdjust="spacingAndGlyphs" stroke="#E39A38" stroke-width="0.14">L363</text>
<text x="511.70" y="49.10" font-size="8.2" text-anchor="end" fill="#6AAAE4" font-weight="normal" textLength="24.60" lengthAdjust="spacingAndGlyphs" stroke="#6AAAE4" stroke-width="0.14">MM1.S</text>
<text x="476.70" y="136.00" font-size="8.9" text-anchor="middle" fill="#1c1c1c" font-weight="normal" textLength="21.40" lengthAdjust="spacingAndGlyphs" stroke="#1c1c1c" stroke-width="0.45">BCL-XL</text>
<text x="37.40" y="236.00" font-size="8.3" text-anchor="end" fill="#1c1c1c" font-weight="normal" textLength="23.70" lengthAdjust="spacingAndGlyphs" stroke="#1c1c1c" stroke-width="0.14">MCL-1</text>
<text x="37.40" y="249.10" font-size="8.3" text-anchor="end" fill="#1c1c1c" font-weight="normal" textLength="23.30" lengthAdjust="spacingAndGlyphs" stroke="#1c1c1c" stroke-width="0.14">BCL-2</text>
<text x="37.40" y="262.80" font-size="8.3" text-anchor="end" fill="#1c1c1c" font-weight="normal" textLength="27.50" lengthAdjust="spacingAndGlyphs" stroke="#1c1c1c" stroke-width="0.14">BCL-XL</text>
<text x="37.40" y="286.80" font-size="8.3" text-anchor="end" fill="#1c1c1c" font-weight="normal" textLength="15.50" lengthAdjust="spacingAndGlyphs" stroke="#1c1c1c" stroke-width="0.14">BIM</text>
<text x="76.30" y="181.10" font-size="7.5" text-anchor="middle" fill="#1c1c1c" font-weight="normal" textLength="19.60" lengthAdjust="spacingAndGlyphs" stroke="#1c1c1c" stroke-width="0.14">L363</text>
<text x="76.30" y="190.70" font-size="7.5" text-anchor="middle" fill="#1c1c1c" font-weight="normal" textLength="7.30" lengthAdjust="spacingAndGlyphs" stroke="#1c1c1c" stroke-width="0.14">IP</text>
<line x1="47.50" y1="196.35" x2="105.40" y2="196.35" stroke="#000" stroke-width="1.15"/>
<text x="51.50" y="226.10" font-size="7.6" text-anchor="start" fill="#1c1c1c" font-weight="normal" textLength="11.50" lengthAdjust="spacingAndGlyphs" stroke="#1c1c1c" stroke-width="0.14" transform="rotate(-90 51.5 226.1)">IgG</text>
<text x="70.00" y="226.10" font-size="7.6" text-anchor="start" fill="#1c1c1c" font-weight="normal" textLength="22.30" lengthAdjust="spacingAndGlyphs" stroke="#1c1c1c" stroke-width="0.14" transform="rotate(-90 70.0 226.1)">MCL-1</text>
<text x="86.20" y="226.10" font-size="7.6" text-anchor="start" fill="#1c1c1c" font-weight="normal" textLength="22.30" lengthAdjust="spacingAndGlyphs" stroke="#1c1c1c" stroke-width="0.14" transform="rotate(-90 86.2 226.1)">BCL-2</text>
<text x="103.80" y="226.10" font-size="7.6" text-anchor="start" fill="#1c1c1c" font-weight="normal" textLength="26.20" lengthAdjust="spacingAndGlyphs" stroke="#1c1c1c" stroke-width="0.14" transform="rotate(-90 103.8 226.1)">BCL-XL</text>
<defs><linearGradient id="gL1" x1="0" x2="1"><stop offset="0" stop-color="#e4e4e4"/><stop offset="0.5" stop-color="#eeeeee"/><stop offset="1" stop-color="#e2e2e2"/></linearGradient></defs>
<rect x="41.07" y="230.78" width="70.45" height="8.75" fill="url(#gL1)"/>
<rect x="41.07" y="230.78" width="70.45" height="8.75" fill="#888" opacity="0.35" filter="url(#tex)"/>
<rect x="61.15" y="233.20" width="12.50" height="2.20" rx="1.10" fill="#000" fill-opacity="0.95" filter="url(#bl)"/>
<rect x="61.40" y="233.75" width="12.00" height="3.50" rx="1.20" fill="#000" fill-opacity="0.15" filter="url(#bl2)"/>
<rect x="95.40" y="232.00" width="13.00" height="5.00" rx="1.20" fill="#000" fill-opacity="0.1" filter="url(#bl2)"/>
<defs><linearGradient id="gL2" x1="0" x2="1"><stop offset="0" stop-color="#a8a8a8"/><stop offset="0.15" stop-color="#b2b2b2"/><stop offset="0.45" stop-color="#bcbcbc"/><stop offset="0.7" stop-color="#a6a6a6"/><stop offset="0.9" stop-color="#8a8a8a"/><stop offset="1" stop-color="#6e6e6e"/></linearGradient></defs>
<rect x="41.07" y="243.88" width="70.45" height="8.65" fill="url(#gL2)"/>
<rect x="41.07" y="243.88" width="70.45" height="8.65" fill="#888" opacity="0.35" filter="url(#tex)"/>
<rect x="76.60" y="245.50" width="14.00" height="4.00" rx="1.20" fill="#000" fill-opacity="0.08" filter="url(#bl2)"/>
<rect x="41.07" y="258.18" width="70.45" height="8.45" fill="#f0f0f0"/>
<rect x="41.07" y="258.18" width="70.45" height="8.45" fill="#888" opacity="0.35" filter="url(#tex)"/>
<rect x="60.90" y="259.80" width="13.00" height="5.00" rx="1.20" fill="#000" fill-opacity="0.1" filter="url(#bl2)"/>
<rect x="94.90" y="259.90" width="14.00" height="2.20" rx="1.10" fill="#000" fill-opacity="0.4" filter="url(#bl)"/>
<rect x="94.90" y="262.60" width="14.00" height="2.40" rx="1.20" fill="#000" fill-opacity="0.9" filter="url(#bl)"/>
<rect x="41.07" y="272.07" width="70.45" height="32.65" fill="#f2f2f2"/>
<rect x="41.07" y="272.07" width="70.45" height="32.65" fill="#888" opacity="0.35" filter="url(#tex)"/>
<rect x="39.50" y="275.00" width="6.00" height="14.00" rx="1.20" fill="#000" fill-opacity="0.06" filter="url(#bl2)"/>
<rect x="61.15" y="273.75" width="12.50" height="2.50" rx="1.20" fill="#000" fill-opacity="0.35" filter="url(#bl)"/>
<rect x="60.90" y="276.50" width="13.00" height="2.80" rx="1.20" fill="#000" fill-opacity="0.97" filter="url(#bl)"/>
<rect x="61.40" y="279.15" width="12.00" height="2.50" rx="1.20" fill="#000" fill-opacity="0.35" filter="url(#bl2)"/>
<rect x="61.15" y="293.05" width="12.50" height="2.30" rx="1.15" fill="#000" fill-opacity="0.45" filter="url(#bl)"/>
<rect x="61.15" y="299.40" width="12.50" height="2.40" rx="1.20" fill="#000" fill-opacity="0.45" filter="url(#bl)"/>
<rect x="77.60" y="276.90" width="12.00" height="2.20" rx="1.10" fill="#000" fill-opacity="0.14" filter="url(#bl)"/>
<rect x="95.90" y="276.90" width="12.00" height="2.20" rx="1.10" fill="#000" fill-opacity="0.12" filter="url(#bl)"/>
<rect x="78.60" y="293.50" width="10.00" height="2.00" rx="1.00" fill="#000" fill-opacity="0.05" filter="url(#bl)"/>
<rect x="78.10" y="299.80" width="11.00" height="2.00" rx="1.00" fill="#000" fill-opacity="0.1" filter="url(#bl)"/>
<rect x="96.90" y="300.00" width="10.00" height="2.00" rx="1.00" fill="#000" fill-opacity="0.06" filter="url(#bl)"/>
<text x="158.00" y="181.10" font-size="7.5" text-anchor="middle" fill="#1c1c1c" font-weight="normal" textLength="18.80" lengthAdjust="spacingAndGlyphs" stroke="#1c1c1c" stroke-width="0.14">UM9</text>
<text x="158.00" y="190.70" font-size="7.5" text-anchor="middle" fill="#1c1c1c" font-weight="normal" textLength="7.30" lengthAdjust="spacingAndGlyphs" stroke="#1c1c1c" stroke-width="0.14">IP</text>
<line x1="129.20" y1="196.35" x2="186.80" y2="196.35" stroke="#000" stroke-width="1.15"/>
<text x="133.50" y="226.10" font-size="7.6" text-anchor="start" fill="#1c1c1c" font-weight="normal" textLength="11.50" lengthAdjust="spacingAndGlyphs" stroke="#1c1c1c" stroke-width="0.14" transform="rotate(-90 133.5 226.1)">IgG</text>
<text x="151.20" y="226.10" font-size="7.6" text-anchor="start" fill="#1c1c1c" font-weight="normal" textLength="22.30" lengthAdjust="spacingAndGlyphs" stroke="#1c1c1c" stroke-width="0.14" transform="rotate(-90 151.2 226.1)">MCL-1</text>
<text x="167.80" y="226.10" font-size="7.6" text-anchor="start" fill="#1c1c1c" font-weight="normal" textLength="22.30" lengthAdjust="spacingAndGlyphs" stroke="#1c1c1c" stroke-width="0.14" transform="rotate(-90 167.8 226.1)">BCL-2</text>
<text x="185.40" y="226.10" font-size="7.6" text-anchor="start" fill="#1c1c1c" font-weight="normal" textLength="26.20" lengthAdjust="spacingAndGlyphs" stroke="#1c1c1c" stroke-width="0.14" transform="rotate(-90 185.4 226.1)">BCL-XL</text>
<rect x="122.58" y="231.38" width="70.65" height="8.35" fill="#f1f1f1"/>
<rect x="122.58" y="231.38" width="70.65" height="8.35" fill="#888" opacity="0.35" filter="url(#tex)"/>
<rect x="142.70" y="233.70" width="13.00" height="2.60" rx="1.20" fill="#000" fill-opacity="0.97" filter="url(#bl)"/>
<rect x="143.20" y="235.00" width="12.00" height="3.00" rx="1.20" fill="#000" fill-opacity="0.12" filter="url(#bl2)"/>
<defs><linearGradient id="gU2" x1="0" x2="1"><stop offset="0" stop-color="#bdbdbd"/><stop offset="0.06" stop-color="#dadada"/><stop offset="0.5" stop-color="#e2e2e2"/><stop offset="1" stop-color="#dcdcdc"/></linearGradient></defs>
<rect x="122.58" y="244.78" width="70.65" height="8.65" fill="url(#gU2)"/>
<rect x="122.58" y="244.78" width="70.65" height="8.65" fill="#888" opacity="0.35" filter="url(#tex)"/>
<rect x="159.15" y="248.00" width="13.50" height="2.80" rx="1.20" fill="#000" fill-opacity="0.97" filter="url(#bl)"/>
<rect x="122.58" y="257.98" width="70.65" height="8.55" fill="#efefef"/>
<rect x="122.58" y="257.98" width="70.65" height="8.55" fill="#888" opacity="0.35" filter="url(#tex)"/>
<rect x="143.20" y="260.00" width="12.00" height="5.00" rx="1.20" fill="#000" fill-opacity="0.06" filter="url(#bl2)"/>
<rect x="178.15" y="260.30" width="13.50" height="2.00" rx="1.00" fill="#000" fill-opacity="0.45" filter="url(#bl)"/>
<rect x="178.15" y="262.40" width="13.50" height="2.40" rx="1.20" fill="#000" fill-opacity="0.95" filter="url(#bl)"/>
<rect x="122.58" y="272.68" width="70.65" height="31.85" fill="#f4f4f4"/>
<rect x="122.58" y="272.68" width="70.65" height="31.85" fill="#888" opacity="0.35" filter="url(#tex)"/>
<rect x="142.95" y="274.75" width="12.50" height="2.50" rx="1.20" fill="#000" fill-opacity="0.35" filter="url(#bl)"/>
<rect x="142.70" y="277.30" width="13.00" height="3.00" rx="1.20" fill="#000" fill-opacity="0.97" filter="url(#bl)"/>
<rect x="143.20" y="279.75" width="12.00" height="4.50" rx="1.20" fill="#000" fill-opacity="0.3" filter="url(#bl2)"/>
<rect x="142.95" y="293.20" width="12.50" height="2.20" rx="1.10" fill="#000" fill-opacity="0.6" filter="url(#bl)"/>
<rect x="142.95" y="297.80" width="12.50" height="2.00" rx="1.00" fill="#000" fill-opacity="0.5" filter="url(#bl)"/>
<rect x="159.90" y="277.80" width="12.00" height="2.40" rx="1.20" fill="#000" fill-opacity="0.32" filter="url(#bl)"/>
<rect x="159.90" y="293.30" width="12.00" height="2.00" rx="1.00" fill="#000" fill-opacity="0.45" filter="url(#bl)"/>
<rect x="159.90" y="297.80" width="12.00" height="2.00" rx="1.00" fill="#000" fill-opacity="0.45" filter="url(#bl)"/>
<rect x="179.40" y="277.50" width="11.00" height="2.20" rx="1.10" fill="#000" fill-opacity="0.1" filter="url(#bl)"/>
<rect x="179.40" y="293.40" width="11.00" height="1.80" rx="0.90" fill="#000" fill-opacity="0.12" filter="url(#bl)"/>
<rect x="179.40" y="297.90" width="11.00" height="1.80" rx="0.90" fill="#000" fill-opacity="0.12" filter="url(#bl)"/>
<text x="237.70" y="181.10" font-size="7.5" text-anchor="middle" fill="#1c1c1c" font-weight="normal" textLength="26.40" lengthAdjust="spacingAndGlyphs" stroke="#1c1c1c" stroke-width="0.14">MM1.S</text>
<text x="237.70" y="190.70" font-size="7.5" text-anchor="middle" fill="#1c1c1c" font-weight="normal" textLength="7.30" lengthAdjust="spacingAndGlyphs" stroke="#1c1c1c" stroke-width="0.14">IP</text>
<line x1="208.90" y1="196.35" x2="266.20" y2="196.35" stroke="#000" stroke-width="1.15"/>
<text x="213.30" y="226.10" font-size="7.6" text-anchor="start" fill="#1c1c1c" font-weight="normal" textLength="11.50" lengthAdjust="spacingAndGlyphs" stroke="#1c1c1c" stroke-width="0.14" transform="rotate(-90 213.3 226.1)">IgG</text>
<text x="231.80" y="226.10" font-size="7.6" text-anchor="start" fill="#1c1c1c" font-weight="normal" textLength="22.30" lengthAdjust="spacingAndGlyphs" stroke="#1c1c1c" stroke-width="0.14" transform="rotate(-90 231.8 226.1)">MCL-1</text>
<text x="248.00" y="226.10" font-size="7.6" text-anchor="start" fill="#1c1c1c" font-weight="normal" textLength="22.30" lengthAdjust="spacingAndGlyphs" stroke="#1c1c1c" stroke-width="0.14" transform="rotate(-90 248.0 226.1)">BCL-2</text>
<text x="265.60" y="226.10" font-size="7.6" text-anchor="start" fill="#1c1c1c" font-weight="normal" textLength="26.20" lengthAdjust="spacingAndGlyphs" stroke="#1c1c1c" stroke-width="0.14" transform="rotate(-90 265.6 226.1)">BCL-XL</text>
<rect x="202.78" y="231.28" width="69.95" height="8.15" fill="#efefef"/>
<rect x="202.78" y="231.28" width="69.95" height="8.15" fill="#888" opacity="0.35" filter="url(#tex)"/>
<rect x="223.45" y="232.90" width="12.50" height="2.00" rx="1.00" fill="#000" fill-opacity="0.9" filter="url(#bl)"/>
<rect x="257.30" y="232.25" width="12.00" height="4.50" rx="1.20" fill="#000" fill-opacity="0.12" filter="url(#bl2)"/>
<rect x="205.30" y="232.25" width="12.00" height="4.50" rx="1.20" fill="#000" fill-opacity="0.05" filter="url(#bl2)"/>
<defs><linearGradient id="gM2" x1="0" x2="1"><stop offset="0" stop-color="#c4c4c4"/><stop offset="0.05" stop-color="#cfcfcf"/><stop offset="0.5" stop-color="#d2d2d2"/><stop offset="1" stop-color="#c8c8c8"/></linearGradient></defs>
<rect x="202.78" y="244.78" width="69.95" height="7.95" fill="url(#gM2)"/>
<rect x="202.78" y="244.78" width="69.95" height="7.95" fill="#888" opacity="0.35" filter="url(#tex)"/>
<rect x="239.30" y="246.10" width="14.00" height="3.40" rx="1.20" fill="#000" fill-opacity="0.25" filter="url(#bl2)"/>
<rect x="202.78" y="258.88" width="69.95" height="8.15" fill="#f0f0f0"/>
<rect x="202.78" y="258.88" width="69.95" height="8.15" fill="#888" opacity="0.35" filter="url(#tex)"/>
<rect x="256.30" y="261.60" width="14.00" height="3.60" rx="1.20" fill="#000" fill-opacity="0.97" filter="url(#bl)"/>
<rect x="224.20" y="261.65" width="11.00" height="3.50" rx="1.20" fill="#000" fill-opacity="0.04" filter="url(#bl2)"/>
<rect x="202.78" y="272.68" width="69.95" height="31.85" fill="#f3f3f3"/>
<rect x="202.78" y="272.68" width="69.95" height="31.85" fill="#888" opacity="0.35" filter="url(#tex)"/>
<rect x="206.80" y="278.70" width="9.00" height="2.20" rx="1.10" fill="#000" fill-opacity="0.14" filter="url(#bl)"/>
<rect x="223.45" y="274.95" width="12.50" height="2.50" rx="1.20" fill="#000" fill-opacity="0.3" filter="url(#bl)"/>
<rect x="223.20" y="277.40" width="13.00" height="3.00" rx="1.20" fill="#000" fill-opacity="0.95" filter="url(#bl)"/>
<rect x="240.30" y="277.80" width="12.00" height="2.40" rx="1.20" fill="#000" fill-opacity="0.32" filter="url(#bl)"/>
<rect x="257.05" y="275.25" width="12.50" height="2.50" rx="1.20" fill="#000" fill-opacity="0.2" filter="url(#bl)"/>
<rect x="256.80" y="277.60" width="13.00" height="2.80" rx="1.20" fill="#000" fill-opacity="0.62" filter="url(#bl)"/>
<rect x="205.05" y="293.20" width="12.50" height="2.20" rx="1.10" fill="#000" fill-opacity="0.1" filter="url(#bl)"/>
<rect x="223.45" y="293.20" width="12.50" height="2.20" rx="1.10" fill="#000" fill-opacity="0.55" filter="url(#bl)"/>
<rect x="240.05" y="293.20" width="12.50" height="2.20" rx="1.10" fill="#000" fill-opacity="0.42" filter="url(#bl)"/>
<rect x="257.05" y="293.20" width="12.50" height="2.20" rx="1.10" fill="#000" fill-opacity="0.45" filter="url(#bl)"/>
<rect x="205.05" y="299.00" width="12.50" height="2.40" rx="1.20" fill="#000" fill-opacity="0.1" filter="url(#bl)"/>
<rect x="223.45" y="299.00" width="12.50" height="2.40" rx="1.20" fill="#000" fill-opacity="0.65" filter="url(#bl)"/>
<rect x="240.05" y="299.00" width="12.50" height="2.40" rx="1.20" fill="#000" fill-opacity="0.55" filter="url(#bl)"/>
<rect x="257.05" y="299.00" width="12.50" height="2.40" rx="1.20" fill="#000" fill-opacity="0.38" filter="url(#bl)"/>
<text x="319.70" y="257.70" font-size="7.6" text-anchor="end" fill="#1c1c1c" font-weight="normal" textLength="23.00" lengthAdjust="spacingAndGlyphs" stroke="#1c1c1c" stroke-width="0.14">BCL-2</text>
<text x="319.70" y="272.60" font-size="7.6" text-anchor="end" fill="#1c1c1c" font-weight="normal" textLength="27.60" lengthAdjust="spacingAndGlyphs" stroke="#1c1c1c" stroke-width="0.14">BCL-XL</text>
<text x="319.70" y="286.20" font-size="7.6" text-anchor="end" fill="#1c1c1c" font-weight="normal" textLength="23.30" lengthAdjust="spacingAndGlyphs" stroke="#1c1c1c" stroke-width="0.14">MCL-1</text>
<text x="319.70" y="298.90" font-size="7.6" text-anchor="end" fill="#1c1c1c" font-weight="normal" textLength="30.60" lengthAdjust="spacingAndGlyphs" stroke="#1c1c1c" stroke-width="0.14">α-tubulin</text>
<text x="357.00" y="173.40" font-size="9.4" text-anchor="middle" fill="#1c1c1c" font-weight="normal" textLength="20.60" lengthAdjust="spacingAndGlyphs" stroke="#1c1c1c" stroke-width="0.14">UM9</text>
<text x="334.40" y="246.40" font-size="8.5" text-anchor="start" fill="#1c1c1c" font-weight="normal" textLength="44.60" lengthAdjust="spacingAndGlyphs" stroke="#1c1c1c" stroke-width="0.14" transform="rotate(-90 334.4 246.4)">non-targeting</text>
<text x="353.00" y="246.40" font-size="8.5" text-anchor="start" fill="#1c1c1c" font-weight="normal" textLength="25.00" lengthAdjust="spacingAndGlyphs" stroke="#1c1c1c" stroke-width="0.14" transform="rotate(-90 353.0 246.4)">siBCL2</text>
<text x="368.90" y="246.40" font-size="8.5" text-anchor="start" fill="#1c1c1c" font-weight="normal" textLength="31.00" lengthAdjust="spacingAndGlyphs" stroke="#1c1c1c" stroke-width="0.14" transform="rotate(-90 368.9 246.4)">siBCLXL</text>
<text x="387.10" y="246.40" font-size="8.5" text-anchor="start" fill="#1c1c1c" font-weight="normal" textLength="66.90" lengthAdjust="spacingAndGlyphs" stroke="#1c1c1c" stroke-width="0.14" transform="rotate(-90 387.1 246.4)">siBCL2 + siBCLXL</text>
<rect x="323.28" y="251.48" width="67.15" height="8.35" fill="#f2f2f2"/>
<rect x="323.28" y="251.48" width="67.15" height="8.35" fill="#888" opacity="0.35" filter="url(#tex)"/>
<rect x="324.50" y="254.80" width="14.00" height="2.40" rx="1.20" fill="#000" fill-opacity="0.95" filter="url(#bl)"/>
<rect x="341.70" y="255.10" width="13.00" height="2.40" rx="1.20" fill="#000" fill-opacity="0.5" filter="url(#bl)"/>
<rect x="358.70" y="254.30" width="13.00" height="2.40" rx="1.20" fill="#000" fill-opacity="0.95" filter="url(#bl)"/>
<rect x="375.70" y="253.80" width="13.00" height="2.40" rx="1.20" fill="#000" fill-opacity="0.2" filter="url(#bl)"/>
<rect x="323.28" y="264.88" width="67.15" height="8.35" fill="#efefef"/>
<rect x="323.28" y="264.88" width="67.15" height="8.35" fill="#888" opacity="0.35" filter="url(#tex)"/>
<rect x="325.20" y="266.30" width="12.60" height="2.60" rx="1.20" fill="#000" fill-opacity="0.54" filter="url(#bl)"/>
<rect x="325.20" y="269.00" width="12.60" height="2.80" rx="1.20" fill="#000" fill-opacity="0.9" filter="url(#bl)"/>
<rect x="341.90" y="266.30" width="12.60" height="2.60" rx="1.20" fill="#000" fill-opacity="0.51" filter="url(#bl)"/>
<rect x="341.90" y="269.00" width="12.60" height="2.80" rx="1.20" fill="#000" fill-opacity="0.85" filter="url(#bl)"/>
<rect x="358.90" y="266.30" width="12.60" height="2.60" rx="1.20" fill="#000" fill-opacity="0.372" filter="url(#bl)"/>
<rect x="358.90" y="269.00" width="12.60" height="2.80" rx="1.20" fill="#000" fill-opacity="0.62" filter="url(#bl)"/>
<rect x="375.90" y="266.30" width="12.60" height="2.60" rx="1.20" fill="#000" fill-opacity="0.36" filter="url(#bl)"/>
<rect x="375.90" y="269.00" width="12.60" height="2.80" rx="1.20" fill="#000" fill-opacity="0.6" filter="url(#bl)"/>
<rect x="323.28" y="278.68" width="67.15" height="7.55" fill="#f2f2f2"/>
<rect x="323.28" y="278.68" width="67.15" height="7.55" fill="#888" opacity="0.35" filter="url(#tex)"/>
<rect x="324.75" y="282.35" width="13.50" height="1.90" rx="0.95" fill="#000" fill-opacity="0.9" filter="url(#bl)"/>
<rect x="341.45" y="282.35" width="13.50" height="1.90" rx="0.95" fill="#000" fill-opacity="0.9" filter="url(#bl)"/>
<rect x="358.45" y="282.05" width="13.50" height="1.90" rx="0.95" fill="#000" fill-opacity="0.9" filter="url(#bl)"/>
<rect x="375.45" y="281.45" width="13.50" height="1.90" rx="0.95" fill="#000" fill-opacity="0.9" filter="url(#bl)"/>
<rect x="323.28" y="291.88" width="67.15" height="7.65" fill="#f2f2f2"/>
<rect x="323.28" y="291.88" width="67.15" height="7.65" fill="#888" opacity="0.35" filter="url(#tex)"/>
<rect x="324.25" y="295.50" width="14.50" height="2.80" rx="1.20" fill="#000" fill-opacity="0.97" filter="url(#bl)"/>
<rect x="340.95" y="295.50" width="14.50" height="2.80" rx="1.20" fill="#000" fill-opacity="0.97" filter="url(#bl)"/>
<rect x="357.95" y="295.50" width="14.50" height="2.80" rx="1.20" fill="#000" fill-opacity="0.97" filter="url(#bl)"/>
<rect x="374.95" y="295.50" width="14.50" height="2.80" rx="1.20" fill="#000" fill-opacity="0.97" filter="url(#bl)"/>
<text x="431.60" y="173.40" font-size="9.4" text-anchor="middle" fill="#1c1c1c" font-weight="normal" textLength="31.20" lengthAdjust="spacingAndGlyphs" stroke="#1c1c1c" stroke-width="0.14">MM1.S</text>
<text x="410.90" y="246.40" font-size="8.5" text-anchor="start" fill="#1c1c1c" font-weight="normal" textLength="44.60" lengthAdjust="spacingAndGlyphs" stroke="#1c1c1c" stroke-width="0.14" transform="rotate(-90 410.9 246.4)">non-targeting</text>
<text x="428.00" y="246.40" font-size="8.5" text-anchor="start" fill="#1c1c1c" font-weight="normal" textLength="25.00" lengthAdjust="spacingAndGlyphs" stroke="#1c1c1c" stroke-width="0.14" transform="rotate(-90 428.0 246.4)">siBCL2</text>
<text x="443.10" y="246.40" font-size="8.5" text-anchor="start" fill="#1c1c1c" font-weight="normal" textLength="31.00" lengthAdjust="spacingAndGlyphs" stroke="#1c1c1c" stroke-width="0.14" transform="rotate(-90 443.1 246.4)">siBCLXL</text>
<text x="460.20" y="246.40" font-size="8.5" text-anchor="start" fill="#1c1c1c" font-weight="normal" textLength="66.90" lengthAdjust="spacingAndGlyphs" stroke="#1c1c1c" stroke-width="0.14" transform="rotate(-90 460.2 246.4)">siBCL2 + siBCLXL</text>
<rect x="398.07" y="251.48" width="67.25" height="8.55" fill="#f2f2f2"/>
<rect x="398.07" y="251.48" width="67.25" height="8.55" fill="#888" opacity="0.35" filter="url(#tex)"/>
<rect x="399.55" y="255.10" width="13.50" height="2.40" rx="1.20" fill="#000" fill-opacity="0.8" filter="url(#bl)"/>
<rect x="416.45" y="255.10" width="13.50" height="2.40" rx="1.20" fill="#000" fill-opacity="0.35" filter="url(#bl)"/>
<rect x="433.25" y="255.10" width="13.50" height="2.40" rx="1.20" fill="#000" fill-opacity="0.82" filter="url(#bl)"/>
<rect x="450.05" y="255.10" width="13.50" height="2.40" rx="1.20" fill="#000" fill-opacity="0.3" filter="url(#bl)"/>
<rect x="398.07" y="264.88" width="67.25" height="8.35" fill="#efefef"/>
<rect x="398.07" y="264.88" width="67.25" height="8.35" fill="#888" opacity="0.35" filter="url(#tex)"/>
<rect x="399.30" y="266.50" width="14.00" height="5.60" rx="1.20" fill="#000" fill-opacity="1.0" filter="url(#bl)"/>
<rect x="416.20" y="266.90" width="14.00" height="4.80" rx="1.20" fill="#000" fill-opacity="0.9" filter="url(#bl)"/>
<rect x="433.00" y="267.20" width="14.00" height="4.20" rx="1.20" fill="#000" fill-opacity="0.55" filter="url(#bl)"/>
<rect x="449.80" y="267.20" width="14.00" height="4.20" rx="1.20" fill="#000" fill-opacity="0.6" filter="url(#bl)"/>
<rect x="398.07" y="278.68" width="67.25" height="7.95" fill="#f2f2f2"/>
<rect x="398.07" y="278.68" width="67.25" height="7.95" fill="#888" opacity="0.35" filter="url(#tex)"/>
<rect x="399.55" y="282.20" width="13.50" height="2.00" rx="1.00" fill="#000" fill-opacity="0.85" filter="url(#bl)"/>
<rect x="416.45" y="282.20" width="13.50" height="2.00" rx="1.00" fill="#000" fill-opacity="0.85" filter="url(#bl)"/>
<rect x="433.25" y="282.20" width="13.50" height="2.00" rx="1.00" fill="#000" fill-opacity="0.85" filter="url(#bl)"/>
<rect x="450.05" y="281.60" width="13.50" height="2.00" rx="1.00" fill="#000" fill-opacity="0.85" filter="url(#bl)"/>
<rect x="398.07" y="291.88" width="67.25" height="8.15" fill="#f2f2f2"/>
<rect x="398.07" y="291.88" width="67.25" height="8.15" fill="#888" opacity="0.35" filter="url(#tex)"/>
<rect x="399.05" y="295.80" width="14.50" height="2.80" rx="1.20" fill="#000" fill-opacity="0.97" filter="url(#bl)"/>
<rect x="415.95" y="295.80" width="14.50" height="2.80" rx="1.20" fill="#000" fill-opacity="0.97" filter="url(#bl)"/>
<rect x="432.75" y="295.80" width="14.50" height="2.80" rx="1.20" fill="#000" fill-opacity="0.97" filter="url(#bl)"/>
<rect x="449.55" y="295.80" width="14.50" height="2.80" rx="1.20" fill="#000" fill-opacity="0.97" filter="url(#bl)"/>
<line x1="41.90" y1="349.30" x2="41.90" y2="446.40" stroke="#2a2a2a" stroke-width="1.6"/>
<line x1="41.10" y1="445.70" x2="182.97" y2="445.70" stroke="#2a2a2a" stroke-width="1.5"/>
<line x1="38.70" y1="445.70" x2="41.90" y2="445.70" stroke="#2a2a2a" stroke-width="1.2"/>
<text x="35.70" y="448.20" font-size="7.1" text-anchor="end" fill="#1c1c1c" font-weight="normal" textLength="4.58" lengthAdjust="spacingAndGlyphs" stroke="#1c1c1c" stroke-width="0.14">0</text>
<line x1="38.70" y1="427.02" x2="41.90" y2="427.02" stroke="#2a2a2a" stroke-width="1.2"/>
<text x="35.70" y="429.52" font-size="7.1" text-anchor="end" fill="#1c1c1c" font-weight="normal" textLength="9.16" lengthAdjust="spacingAndGlyphs" stroke="#1c1c1c" stroke-width="0.14">20</text>
<line x1="38.70" y1="408.34" x2="41.90" y2="408.34" stroke="#2a2a2a" stroke-width="1.2"/>
<text x="35.70" y="410.84" font-size="7.1" text-anchor="end" fill="#1c1c1c" font-weight="normal" textLength="9.16" lengthAdjust="spacingAndGlyphs" stroke="#1c1c1c" stroke-width="0.14">40</text>
<line x1="38.70" y1="389.66" x2="41.90" y2="389.66" stroke="#2a2a2a" stroke-width="1.2"/>
<text x="35.70" y="392.16" font-size="7.1" text-anchor="end" fill="#1c1c1c" font-weight="normal" textLength="9.16" lengthAdjust="spacingAndGlyphs" stroke="#1c1c1c" stroke-width="0.14">60</text>
<line x1="38.70" y1="370.98" x2="41.90" y2="370.98" stroke="#2a2a2a" stroke-width="1.2"/>
<text x="35.70" y="373.48" font-size="7.1" text-anchor="end" fill="#1c1c1c" font-weight="normal" textLength="9.16" lengthAdjust="spacingAndGlyphs" stroke="#1c1c1c" stroke-width="0.14">80</text>
<line x1="38.70" y1="352.30" x2="41.90" y2="352.30" stroke="#2a2a2a" stroke-width="1.2"/>
<text x="35.70" y="354.80" font-size="7.1" text-anchor="end" fill="#1c1c1c" font-weight="normal" textLength="13.74" lengthAdjust="spacingAndGlyphs" stroke="#1c1c1c" stroke-width="0.14">100</text>
<line x1="48.90" y1="445.70" x2="48.90" y2="448.70" stroke="#2a2a2a" stroke-width="1.2"/>
<line x1="62.93" y1="445.70" x2="62.93" y2="448.70" stroke="#2a2a2a" stroke-width="1.2"/>
<line x1="76.96" y1="445.70" x2="76.96" y2="448.70" stroke="#2a2a2a" stroke-width="1.2"/>
<line x1="90.99" y1="445.70" x2="90.99" y2="448.70" stroke="#2a2a2a" stroke-width="1.2"/>
<line x1="105.02" y1="445.70" x2="105.02" y2="448.70" stroke="#2a2a2a" stroke-width="1.2"/>
<line x1="119.05" y1="445.70" x2="119.05" y2="448.70" stroke="#2a2a2a" stroke-width="1.2"/>
<line x1="133.08" y1="445.70" x2="133.08" y2="448.70" stroke="#2a2a2a" stroke-width="1.2"/>
<line x1="147.11" y1="445.70" x2="147.11" y2="448.70" stroke="#2a2a2a" stroke-width="1.2"/>
<line x1="161.14" y1="445.70" x2="161.14" y2="448.70" stroke="#2a2a2a" stroke-width="1.2"/>
<line x1="175.17" y1="445.70" x2="175.17" y2="448.70" stroke="#2a2a2a" stroke-width="1.2"/>
<text x="53.20" y="454.40" font-size="8.0" text-anchor="end" fill="#1c1c1c" font-weight="normal" textLength="4.67" lengthAdjust="spacingAndGlyphs" stroke="#1c1c1c" stroke-width="0.14" transform="rotate(-45 53.199999999999996 454.4)">0</text>
<text x="67.23" y="454.40" font-size="8.0" text-anchor="end" fill="#1c1c1c" font-weight="normal" textLength="4.67" lengthAdjust="spacingAndGlyphs" stroke="#1c1c1c" stroke-width="0.14" transform="rotate(-45 67.23 454.4)">1</text>
<text x="81.26" y="454.40" font-size="8.0" text-anchor="end" fill="#1c1c1c" font-weight="normal" textLength="4.67" lengthAdjust="spacingAndGlyphs" stroke="#1c1c1c" stroke-width="0.14" transform="rotate(-45 81.25999999999999 454.4)">3</text>
<text x="95.29" y="454.40" font-size="8.0" text-anchor="end" fill="#1c1c1c" font-weight="normal" textLength="9.34" lengthAdjust="spacingAndGlyphs" stroke="#1c1c1c" stroke-width="0.14" transform="rotate(-45 95.28999999999999 454.4)">10</text>
<text x="109.32" y="454.40" font-size="8.0" text-anchor="end" fill="#1c1c1c" font-weight="normal" textLength="9.34" lengthAdjust="spacingAndGlyphs" stroke="#1c1c1c" stroke-width="0.14" transform="rotate(-45 109.32 454.4)">30</text>
<text x="123.35" y="454.40" font-size="8.0" text-anchor="end" fill="#1c1c1c" font-weight="normal" textLength="14.02" lengthAdjust="spacingAndGlyphs" stroke="#1c1c1c" stroke-width="0.14" transform="rotate(-45 123.34999999999998 454.4)">100</text>
<text x="137.38" y="454.40" font-size="8.0" text-anchor="end" fill="#1c1c1c" font-weight="normal" textLength="14.02" lengthAdjust="spacingAndGlyphs" stroke="#1c1c1c" stroke-width="0.14" transform="rotate(-45 137.38 454.4)">300</text>
<text x="151.41" y="454.40" font-size="8.0" text-anchor="end" fill="#1c1c1c" font-weight="normal" textLength="21.02" lengthAdjust="spacingAndGlyphs" stroke="#1c1c1c" stroke-width="0.14" transform="rotate(-45 151.41 454.4)">1,000</text>
<text x="165.44" y="454.40" font-size="8.0" text-anchor="end" fill="#1c1c1c" font-weight="normal" textLength="21.02" lengthAdjust="spacingAndGlyphs" stroke="#1c1c1c" stroke-width="0.14" transform="rotate(-45 165.44 454.4)">3,000</text>
<text x="179.47" y="454.40" font-size="8.0" text-anchor="end" fill="#1c1c1c" font-weight="normal" textLength="25.69" lengthAdjust="spacingAndGlyphs" stroke="#1c1c1c" stroke-width="0.14" transform="rotate(-45 179.47 454.4)">10,000</text>
<text x="102.90" y="340.30" font-size="9.3" text-anchor="middle" fill="#111" font-weight="normal" textLength="20.90" lengthAdjust="spacingAndGlyphs" stroke="#111" stroke-width="0.14">UM9</text>
<text x="16.00" y="397.70" font-size="9.0" text-anchor="middle" fill="#1c1c1c" font-weight="normal" textLength="68.20" lengthAdjust="spacingAndGlyphs" stroke="#1c1c1c" stroke-width="0.32" transform="rotate(-90 16.0 397.7)">Specific apoptosis (%)</text>
<text x="112.10" y="485.80" font-size="8.8" text-anchor="middle" fill="#1c1c1c" font-weight="normal" textLength="38.40" lengthAdjust="spacingAndGlyphs" stroke="#1c1c1c" stroke-width="0.45">MCL-1i (nM)</text>
<line x1="119.05" y1="403.76" x2="119.05" y2="395.73" stroke="#9C9CA8" stroke-width="0.9"/>
<line x1="117.35" y1="395.73" x2="120.75" y2="395.73" stroke="#9C9CA8" stroke-width="0.9"/>
<line x1="133.08" y1="375.18" x2="133.08" y2="371.35" stroke="#4E9DE0" stroke-width="0.9"/>
<line x1="131.38" y1="371.35" x2="134.78" y2="371.35" stroke="#4E9DE0" stroke-width="0.9"/>
<line x1="105.02" y1="408.25" x2="105.02" y2="405.54" stroke="#5DAA3C" stroke-width="0.9"/>
<line x1="103.32" y1="405.54" x2="106.72" y2="405.54" stroke="#5DAA3C" stroke-width="0.9"/>
<line x1="119.05" y1="356.97" x2="119.05" y2="354.35" stroke="#E08C12" stroke-width="0.9"/>
<line x1="117.35" y1="354.35" x2="120.75" y2="354.35" stroke="#E08C12" stroke-width="0.9"/>
<line x1="119.05" y1="408.71" x2="119.05" y2="407.41" stroke="#4E9DE0" stroke-width="0.9"/>
<line x1="117.35" y1="407.41" x2="120.75" y2="407.41" stroke="#4E9DE0" stroke-width="0.9"/>
<path d="M48.90 445.70 L62.93 445.23 L76.96 444.30 L90.99 440.10 L105.02 408.25 L119.05 356.97 L133.08 353.23 L147.11 352.30 L161.14 352.30 L175.17 352.30" fill="none" stroke="#5DAA3C" stroke-width="1.15" stroke-linejoin="round"/>
<circle cx="48.90" cy="445.70" r="2.3" fill="#5DAA3C"/>
<circle cx="62.93" cy="445.23" r="2.3" fill="#5DAA3C"/>
<circle cx="76.96" cy="444.30" r="2.3" fill="#5DAA3C"/>
<circle cx="90.99" cy="440.10" r="2.3" fill="#5DAA3C"/>
<circle cx="105.02" cy="408.25" r="2.3" fill="#5DAA3C"/>
<circle cx="119.05" cy="356.97" r="2.3" fill="#5DAA3C"/>
<circle cx="133.08" cy="353.23" r="2.3" fill="#5DAA3C"/>
<circle cx="147.11" cy="352.30" r="2.3" fill="#5DAA3C"/>
<circle cx="161.14" cy="352.30" r="2.3" fill="#5DAA3C"/>
<circle cx="175.17" cy="352.30" r="2.3" fill="#5DAA3C"/>
<path d="M48.90 445.70 L62.93 444.77 L76.96 444.77 L90.99 444.30 L105.02 439.26 L119.05 408.71 L133.08 375.18 L147.11 354.63 L161.14 352.30 L175.17 352.30" fill="none" stroke="#4E9DE0" stroke-width="1.15" stroke-linejoin="round"/>
<circle cx="48.90" cy="445.70" r="2.3" fill="#4E9DE0"/>
<circle cx="62.93" cy="444.77" r="2.3" fill="#4E9DE0"/>
<circle cx="76.96" cy="444.77" r="2.3" fill="#4E9DE0"/>
<circle cx="90.99" cy="444.30" r="2.3" fill="#4E9DE0"/>
<circle cx="105.02" cy="439.26" r="2.3" fill="#4E9DE0"/>
<circle cx="119.05" cy="408.71" r="2.3" fill="#4E9DE0"/>
<circle cx="133.08" cy="375.18" r="2.3" fill="#4E9DE0"/>
<circle cx="147.11" cy="354.63" r="2.3" fill="#4E9DE0"/>
<circle cx="161.14" cy="352.30" r="2.3" fill="#4E9DE0"/>
<circle cx="175.17" cy="352.30" r="2.3" fill="#4E9DE0"/>
<path d="M48.90 445.70 L62.93 445.70 L76.96 445.70 L90.99 439.26 L105.02 414.41 L119.05 356.97 L133.08 353.23 L147.11 352.30 L161.14 352.30 L175.17 352.30" fill="none" stroke="#E08C12" stroke-width="1.15" stroke-linejoin="round"/>
<circle cx="48.90" cy="445.70" r="2.3" fill="#E08C12"/>
<circle cx="62.93" cy="445.70" r="2.3" fill="#E08C12"/>
<circle cx="76.96" cy="445.70" r="2.3" fill="#E08C12"/>
<circle cx="90.99" cy="439.26" r="2.3" fill="#E08C12"/>
<circle cx="105.02" cy="414.41" r="2.3" fill="#E08C12"/>
<circle cx="119.05" cy="356.97" r="2.3" fill="#E08C12"/>
<circle cx="133.08" cy="353.23" r="2.3" fill="#E08C12"/>
<circle cx="147.11" cy="352.30" r="2.3" fill="#E08C12"/>
<circle cx="161.14" cy="352.30" r="2.3" fill="#E08C12"/>
<circle cx="175.17" cy="352.30" r="2.3" fill="#E08C12"/>
<path d="M48.90 445.70 L62.93 444.30 L76.96 444.77 L90.99 443.46 L105.02 439.26 L119.05 403.76 L133.08 382.66 L147.11 356.04 L161.14 352.30 L175.17 352.30" fill="none" stroke="#9C9CA8" stroke-width="1.15" stroke-linejoin="round"/>
<circle cx="48.90" cy="445.70" r="2.3" fill="#9C9CA8"/>
<circle cx="62.93" cy="444.30" r="2.3" fill="#9C9CA8"/>
<circle cx="76.96" cy="444.77" r="2.3" fill="#9C9CA8"/>
<circle cx="90.99" cy="443.46" r="2.3" fill="#9C9CA8"/>
<circle cx="105.02" cy="439.26" r="2.3" fill="#9C9CA8"/>
<circle cx="119.05" cy="403.76" r="2.3" fill="#9C9CA8"/>
<circle cx="133.08" cy="382.66" r="2.3" fill="#9C9CA8"/>
<circle cx="147.11" cy="356.04" r="2.3" fill="#9C9CA8"/>
<circle cx="161.14" cy="352.30" r="2.3" fill="#9C9CA8"/>
<circle cx="175.17" cy="352.30" r="2.3" fill="#9C9CA8"/>
<circle cx="91.34" cy="413.10" r="0.85" fill="#E08C12"/>
<circle cx="94.29" cy="413.10" r="0.85" fill="#E08C12"/>
<circle cx="97.24" cy="413.10" r="0.85" fill="#E08C12"/>
<circle cx="100.19" cy="413.10" r="0.85" fill="#E08C12"/>
<circle cx="114.62" cy="349.90" r="0.85" fill="#E08C12"/>
<circle cx="117.57" cy="349.90" r="0.85" fill="#E08C12"/>
<circle cx="120.52" cy="349.90" r="0.85" fill="#E08C12"/>
<circle cx="123.47" cy="349.90" r="0.85" fill="#E08C12"/>
<circle cx="128.65" cy="346.60" r="0.85" fill="#E08C12"/>
<circle cx="131.60" cy="346.60" r="0.85" fill="#E08C12"/>
<circle cx="134.55" cy="346.60" r="0.85" fill="#E08C12"/>
<circle cx="137.50" cy="346.60" r="0.85" fill="#E08C12"/>
<circle cx="133.08" cy="367.60" r="0.85" fill="#4E9DE0"/>
<line x1="232.80" y1="349.30" x2="232.80" y2="446.40" stroke="#2a2a2a" stroke-width="1.6"/>
<line x1="232.00" y1="445.70" x2="373.97" y2="445.70" stroke="#2a2a2a" stroke-width="1.5"/>
<line x1="229.60" y1="445.70" x2="232.80" y2="445.70" stroke="#2a2a2a" stroke-width="1.2"/>
<text x="226.60" y="448.20" font-size="7.1" text-anchor="end" fill="#1c1c1c" font-weight="normal" textLength="4.58" lengthAdjust="spacingAndGlyphs" stroke="#1c1c1c" stroke-width="0.14">0</text>
<line x1="229.60" y1="427.02" x2="232.80" y2="427.02" stroke="#2a2a2a" stroke-width="1.2"/>
<text x="226.60" y="429.52" font-size="7.1" text-anchor="end" fill="#1c1c1c" font-weight="normal" textLength="9.16" lengthAdjust="spacingAndGlyphs" stroke="#1c1c1c" stroke-width="0.14">20</text>
<line x1="229.60" y1="408.34" x2="232.80" y2="408.34" stroke="#2a2a2a" stroke-width="1.2"/>
<text x="226.60" y="410.84" font-size="7.1" text-anchor="end" fill="#1c1c1c" font-weight="normal" textLength="9.16" lengthAdjust="spacingAndGlyphs" stroke="#1c1c1c" stroke-width="0.14">40</text>
<line x1="229.60" y1="389.66" x2="232.80" y2="389.66" stroke="#2a2a2a" stroke-width="1.2"/>
<text x="226.60" y="392.16" font-size="7.1" text-anchor="end" fill="#1c1c1c" font-weight="normal" textLength="9.16" lengthAdjust="spacingAndGlyphs" stroke="#1c1c1c" stroke-width="0.14">60</text>
<line x1="229.60" y1="370.98" x2="232.80" y2="370.98" stroke="#2a2a2a" stroke-width="1.2"/>
<text x="226.60" y="373.48" font-size="7.1" text-anchor="end" fill="#1c1c1c" font-weight="normal" textLength="9.16" lengthAdjust="spacingAndGlyphs" stroke="#1c1c1c" stroke-width="0.14">80</text>
<line x1="229.60" y1="352.30" x2="232.80" y2="352.30" stroke="#2a2a2a" stroke-width="1.2"/>
<text x="226.60" y="354.80" font-size="7.1" text-anchor="end" fill="#1c1c1c" font-weight="normal" textLength="13.74" lengthAdjust="spacingAndGlyphs" stroke="#1c1c1c" stroke-width="0.14">100</text>
<line x1="239.90" y1="445.70" x2="239.90" y2="448.70" stroke="#2a2a2a" stroke-width="1.2"/>
<line x1="253.93" y1="445.70" x2="253.93" y2="448.70" stroke="#2a2a2a" stroke-width="1.2"/>
<line x1="267.96" y1="445.70" x2="267.96" y2="448.70" stroke="#2a2a2a" stroke-width="1.2"/>
<line x1="281.99" y1="445.70" x2="281.99" y2="448.70" stroke="#2a2a2a" stroke-width="1.2"/>
<line x1="296.02" y1="445.70" x2="296.02" y2="448.70" stroke="#2a2a2a" stroke-width="1.2"/>
<line x1="310.05" y1="445.70" x2="310.05" y2="448.70" stroke="#2a2a2a" stroke-width="1.2"/>
<line x1="324.08" y1="445.70" x2="324.08" y2="448.70" stroke="#2a2a2a" stroke-width="1.2"/>
<line x1="338.11" y1="445.70" x2="338.11" y2="448.70" stroke="#2a2a2a" stroke-width="1.2"/>
<line x1="352.14" y1="445.70" x2="352.14" y2="448.70" stroke="#2a2a2a" stroke-width="1.2"/>
<line x1="366.17" y1="445.70" x2="366.17" y2="448.70" stroke="#2a2a2a" stroke-width="1.2"/>
<text x="244.20" y="454.40" font-size="8.0" text-anchor="end" fill="#1c1c1c" font-weight="normal" textLength="4.67" lengthAdjust="spacingAndGlyphs" stroke="#1c1c1c" stroke-width="0.14" transform="rotate(-45 244.20000000000002 454.4)">0</text>
<text x="258.23" y="454.40" font-size="8.0" text-anchor="end" fill="#1c1c1c" font-weight="normal" textLength="4.67" lengthAdjust="spacingAndGlyphs" stroke="#1c1c1c" stroke-width="0.14" transform="rotate(-45 258.23 454.4)">1</text>
<text x="272.26" y="454.40" font-size="8.0" text-anchor="end" fill="#1c1c1c" font-weight="normal" textLength="4.67" lengthAdjust="spacingAndGlyphs" stroke="#1c1c1c" stroke-width="0.14" transform="rotate(-45 272.26 454.4)">3</text>
<text x="286.29" y="454.40" font-size="8.0" text-anchor="end" fill="#1c1c1c" font-weight="normal" textLength="9.34" lengthAdjust="spacingAndGlyphs" stroke="#1c1c1c" stroke-width="0.14" transform="rotate(-45 286.29 454.4)">10</text>
<text x="300.32" y="454.40" font-size="8.0" text-anchor="end" fill="#1c1c1c" font-weight="normal" textLength="9.34" lengthAdjust="spacingAndGlyphs" stroke="#1c1c1c" stroke-width="0.14" transform="rotate(-45 300.32 454.4)">30</text>
<text x="314.35" y="454.40" font-size="8.0" text-anchor="end" fill="#1c1c1c" font-weight="normal" textLength="14.02" lengthAdjust="spacingAndGlyphs" stroke="#1c1c1c" stroke-width="0.14" transform="rotate(-45 314.35 454.4)">100</text>
<text x="328.38" y="454.40" font-size="8.0" text-anchor="end" fill="#1c1c1c" font-weight="normal" textLength="14.02" lengthAdjust="spacingAndGlyphs" stroke="#1c1c1c" stroke-width="0.14" transform="rotate(-45 328.38 454.4)">300</text>
<text x="342.41" y="454.40" font-size="8.0" text-anchor="end" fill="#1c1c1c" font-weight="normal" textLength="21.02" lengthAdjust="spacingAndGlyphs" stroke="#1c1c1c" stroke-width="0.14" transform="rotate(-45 342.41 454.4)">1,000</text>
<text x="356.44" y="454.40" font-size="8.0" text-anchor="end" fill="#1c1c1c" font-weight="normal" textLength="21.02" lengthAdjust="spacingAndGlyphs" stroke="#1c1c1c" stroke-width="0.14" transform="rotate(-45 356.44 454.4)">3,000</text>
<text x="370.47" y="454.40" font-size="8.0" text-anchor="end" fill="#1c1c1c" font-weight="normal" textLength="25.69" lengthAdjust="spacingAndGlyphs" stroke="#1c1c1c" stroke-width="0.14" transform="rotate(-45 370.47 454.4)">10,000</text>
<text x="289.50" y="340.30" font-size="9.3" text-anchor="middle" fill="#111" font-weight="normal" textLength="31.80" lengthAdjust="spacingAndGlyphs" stroke="#111" stroke-width="0.14">MM1.S</text>
<text x="206.90" y="397.70" font-size="9.0" text-anchor="middle" fill="#1c1c1c" font-weight="normal" textLength="68.20" lengthAdjust="spacingAndGlyphs" stroke="#1c1c1c" stroke-width="0.32" transform="rotate(-90 206.9 397.7)">Specific apoptosis (%)</text>
<text x="303.50" y="485.80" font-size="8.8" text-anchor="middle" fill="#1c1c1c" font-weight="normal" textLength="38.40" lengthAdjust="spacingAndGlyphs" stroke="#1c1c1c" stroke-width="0.45">MCL-1i (nM)</text>
<line x1="324.08" y1="418.05" x2="324.08" y2="412.54" stroke="#9C9CA8" stroke-width="0.9"/>
<line x1="322.38" y1="412.54" x2="325.78" y2="412.54" stroke="#9C9CA8" stroke-width="0.9"/>
<line x1="338.11" y1="400.87" x2="338.11" y2="398.07" stroke="#9C9CA8" stroke-width="0.9"/>
<line x1="336.41" y1="398.07" x2="339.81" y2="398.07" stroke="#9C9CA8" stroke-width="0.9"/>
<line x1="352.14" y1="394.33" x2="352.14" y2="390.59" stroke="#9C9CA8" stroke-width="0.9"/>
<line x1="350.44" y1="390.59" x2="353.84" y2="390.59" stroke="#9C9CA8" stroke-width="0.9"/>
<line x1="366.17" y1="387.14" x2="366.17" y2="379.85" stroke="#9C9CA8" stroke-width="0.9"/>
<line x1="364.47" y1="379.85" x2="367.87" y2="379.85" stroke="#9C9CA8" stroke-width="0.9"/>
<line x1="310.05" y1="412.54" x2="310.05" y2="406.47" stroke="#E08C12" stroke-width="0.9"/>
<line x1="308.35" y1="406.47" x2="311.75" y2="406.47" stroke="#E08C12" stroke-width="0.9"/>
<line x1="324.08" y1="384.71" x2="324.08" y2="377.52" stroke="#E08C12" stroke-width="0.9"/>
<line x1="322.38" y1="377.52" x2="325.78" y2="377.52" stroke="#E08C12" stroke-width="0.9"/>
<line x1="296.02" y1="431.50" x2="296.02" y2="428.89" stroke="#E08C12" stroke-width="0.9"/>
<line x1="294.32" y1="428.89" x2="297.72" y2="428.89" stroke="#E08C12" stroke-width="0.9"/>
<line x1="281.99" y1="437.20" x2="281.99" y2="435.43" stroke="#E08C12" stroke-width="0.9"/>
<line x1="280.29" y1="435.43" x2="283.69" y2="435.43" stroke="#E08C12" stroke-width="0.9"/>
<line x1="338.11" y1="369.11" x2="338.11" y2="364.44" stroke="#E08C12" stroke-width="0.9"/>
<line x1="336.41" y1="364.44" x2="339.81" y2="364.44" stroke="#E08C12" stroke-width="0.9"/>
<line x1="281.99" y1="424.22" x2="281.99" y2="416.75" stroke="#5DAA3C" stroke-width="0.9"/>
<line x1="280.29" y1="416.75" x2="283.69" y2="416.75" stroke="#5DAA3C" stroke-width="0.9"/>
<line x1="296.02" y1="405.07" x2="296.02" y2="392.46" stroke="#5DAA3C" stroke-width="0.9"/>
<line x1="294.32" y1="392.46" x2="297.72" y2="392.46" stroke="#5DAA3C" stroke-width="0.9"/>
<line x1="310.05" y1="383.59" x2="310.05" y2="372.29" stroke="#5DAA3C" stroke-width="0.9"/>
<line x1="308.35" y1="372.29" x2="311.75" y2="372.29" stroke="#5DAA3C" stroke-width="0.9"/>
<line x1="324.08" y1="368.46" x2="324.08" y2="362.57" stroke="#5DAA3C" stroke-width="0.9"/>
<line x1="322.38" y1="362.57" x2="325.78" y2="362.57" stroke="#5DAA3C" stroke-width="0.9"/>
<line x1="338.11" y1="358.46" x2="338.11" y2="356.97" stroke="#5DAA3C" stroke-width="0.9"/>
<line x1="336.41" y1="356.97" x2="339.81" y2="356.97" stroke="#5DAA3C" stroke-width="0.9"/>
<line x1="253.93" y1="441.59" x2="253.93" y2="440.10" stroke="#4E9DE0" stroke-width="0.9"/>
<line x1="252.23" y1="440.10" x2="255.63" y2="440.10" stroke="#4E9DE0" stroke-width="0.9"/>
<line x1="267.96" y1="439.63" x2="267.96" y2="438.23" stroke="#4E9DE0" stroke-width="0.9"/>
<line x1="266.26" y1="438.23" x2="269.66" y2="438.23" stroke="#4E9DE0" stroke-width="0.9"/>
<line x1="281.99" y1="427.86" x2="281.99" y2="419.55" stroke="#4E9DE0" stroke-width="0.9"/>
<line x1="280.29" y1="419.55" x2="283.69" y2="419.55" stroke="#4E9DE0" stroke-width="0.9"/>
<line x1="296.02" y1="412.45" x2="296.02" y2="399.00" stroke="#4E9DE0" stroke-width="0.9"/>
<line x1="294.32" y1="399.00" x2="297.72" y2="399.00" stroke="#4E9DE0" stroke-width="0.9"/>
<line x1="310.05" y1="392.18" x2="310.05" y2="378.08" stroke="#4E9DE0" stroke-width="0.9"/>
<line x1="308.35" y1="378.08" x2="311.75" y2="378.08" stroke="#4E9DE0" stroke-width="0.9"/>
<line x1="324.08" y1="372.29" x2="324.08" y2="364.72" stroke="#4E9DE0" stroke-width="0.9"/>
<line x1="322.38" y1="364.72" x2="325.78" y2="364.72" stroke="#4E9DE0" stroke-width="0.9"/>
<path d="M239.90 445.70 L253.93 442.34 L267.96 439.82 L281.99 424.22 L296.02 405.07 L310.05 383.59 L324.08 368.46 L338.11 358.46 L352.14 358.18 L366.17 356.97" fill="none" stroke="#5DAA3C" stroke-width="1.15" stroke-linejoin="round"/>
<circle cx="239.90" cy="445.70" r="2.3" fill="#5DAA3C"/>
<circle cx="253.93" cy="442.34" r="2.3" fill="#5DAA3C"/>
<circle cx="267.96" cy="439.82" r="2.3" fill="#5DAA3C"/>
<circle cx="281.99" cy="424.22" r="2.3" fill="#5DAA3C"/>
<circle cx="296.02" cy="405.07" r="2.3" fill="#5DAA3C"/>
<circle cx="310.05" cy="383.59" r="2.3" fill="#5DAA3C"/>
<circle cx="324.08" cy="368.46" r="2.3" fill="#5DAA3C"/>
<circle cx="338.11" cy="358.46" r="2.3" fill="#5DAA3C"/>
<circle cx="352.14" cy="358.18" r="2.3" fill="#5DAA3C"/>
<circle cx="366.17" cy="356.97" r="2.3" fill="#5DAA3C"/>
<path d="M239.90 445.70 L253.93 441.59 L267.96 439.63 L281.99 427.86 L296.02 412.45 L310.05 392.18 L324.08 372.29 L338.11 361.17 L352.14 359.77 L366.17 359.40" fill="none" stroke="#4E9DE0" stroke-width="1.15" stroke-linejoin="round"/>
<circle cx="239.90" cy="445.70" r="2.3" fill="#4E9DE0"/>
<circle cx="253.93" cy="441.59" r="2.3" fill="#4E9DE0"/>
<circle cx="267.96" cy="439.63" r="2.3" fill="#4E9DE0"/>
<circle cx="281.99" cy="427.86" r="2.3" fill="#4E9DE0"/>
<circle cx="296.02" cy="412.45" r="2.3" fill="#4E9DE0"/>
<circle cx="310.05" cy="392.18" r="2.3" fill="#4E9DE0"/>
<circle cx="324.08" cy="372.29" r="2.3" fill="#4E9DE0"/>
<circle cx="338.11" cy="361.17" r="2.3" fill="#4E9DE0"/>
<circle cx="352.14" cy="359.77" r="2.3" fill="#4E9DE0"/>
<circle cx="366.17" cy="359.40" r="2.3" fill="#4E9DE0"/>
<path d="M239.90 445.70 L253.93 444.95 L267.96 442.99 L281.99 437.20 L296.02 431.50 L310.05 412.54 L324.08 384.71 L338.11 369.11 L352.14 364.72 L366.17 362.29" fill="none" stroke="#E08C12" stroke-width="1.15" stroke-linejoin="round"/>
<circle cx="239.90" cy="445.70" r="2.3" fill="#E08C12"/>
<circle cx="253.93" cy="444.95" r="2.3" fill="#E08C12"/>
<circle cx="267.96" cy="442.99" r="2.3" fill="#E08C12"/>
<circle cx="281.99" cy="437.20" r="2.3" fill="#E08C12"/>
<circle cx="296.02" cy="431.50" r="2.3" fill="#E08C12"/>
<circle cx="310.05" cy="412.54" r="2.3" fill="#E08C12"/>
<circle cx="324.08" cy="384.71" r="2.3" fill="#E08C12"/>
<circle cx="338.11" cy="369.11" r="2.3" fill="#E08C12"/>
<circle cx="352.14" cy="364.72" r="2.3" fill="#E08C12"/>
<circle cx="366.17" cy="362.29" r="2.3" fill="#E08C12"/>
<path d="M239.90 445.70 L253.93 445.51 L267.96 445.14 L281.99 443.46 L296.02 442.06 L310.05 437.29 L324.08 418.05 L338.11 400.87 L352.14 394.33 L366.17 387.14" fill="none" stroke="#9C9CA8" stroke-width="1.15" stroke-linejoin="round"/>
<circle cx="239.90" cy="445.70" r="2.3" fill="#9C9CA8"/>
<circle cx="253.93" cy="445.51" r="2.3" fill="#9C9CA8"/>
<circle cx="267.96" cy="445.14" r="2.3" fill="#9C9CA8"/>
<circle cx="281.99" cy="443.46" r="2.3" fill="#9C9CA8"/>
<circle cx="296.02" cy="442.06" r="2.3" fill="#9C9CA8"/>
<circle cx="310.05" cy="437.29" r="2.3" fill="#9C9CA8"/>
<circle cx="324.08" cy="418.05" r="2.3" fill="#9C9CA8"/>
<circle cx="338.11" cy="400.87" r="2.3" fill="#9C9CA8"/>
<circle cx="352.14" cy="394.33" r="2.3" fill="#9C9CA8"/>
<circle cx="366.17" cy="387.14" r="2.3" fill="#9C9CA8"/>
<circle cx="294.54" cy="388.00" r="0.85" fill="#4E9DE0"/>
<circle cx="297.50" cy="388.00" r="0.85" fill="#4E9DE0"/>
<circle cx="305.62" cy="367.90" r="0.85" fill="#4E9DE0"/>
<circle cx="308.57" cy="367.90" r="0.85" fill="#4E9DE0"/>
<circle cx="311.53" cy="367.90" r="0.85" fill="#4E9DE0"/>
<circle cx="314.48" cy="367.90" r="0.85" fill="#4E9DE0"/>
<circle cx="319.65" cy="358.30" r="0.85" fill="#4E9DE0"/>
<circle cx="322.60" cy="358.30" r="0.85" fill="#4E9DE0"/>
<circle cx="325.56" cy="358.30" r="0.85" fill="#4E9DE0"/>
<circle cx="328.50" cy="358.30" r="0.85" fill="#4E9DE0"/>
<circle cx="333.69" cy="352.50" r="0.85" fill="#4E9DE0"/>
<circle cx="336.63" cy="352.50" r="0.85" fill="#4E9DE0"/>
<circle cx="339.59" cy="352.50" r="0.85" fill="#4E9DE0"/>
<circle cx="342.54" cy="352.50" r="0.85" fill="#4E9DE0"/>
<circle cx="349.19" cy="351.80" r="0.85" fill="#4E9DE0"/>
<circle cx="352.14" cy="351.80" r="0.85" fill="#4E9DE0"/>
<circle cx="355.09" cy="351.80" r="0.85" fill="#4E9DE0"/>
<circle cx="364.69" cy="350.50" r="0.85" fill="#4E9DE0"/>
<circle cx="367.65" cy="350.50" r="0.85" fill="#4E9DE0"/>
<circle cx="308.57" cy="417.50" r="0.85" fill="#E08C12"/>
<circle cx="311.53" cy="417.50" r="0.85" fill="#E08C12"/>
<circle cx="321.13" cy="390.50" r="0.85" fill="#E08C12"/>
<circle cx="324.08" cy="390.50" r="0.85" fill="#E08C12"/>
<circle cx="327.03" cy="390.50" r="0.85" fill="#E08C12"/>
<circle cx="335.16" cy="375.50" r="0.85" fill="#E08C12"/>
<circle cx="338.11" cy="375.50" r="0.85" fill="#E08C12"/>
<circle cx="341.06" cy="375.50" r="0.85" fill="#E08C12"/>
<circle cx="350.66" cy="370.50" r="0.85" fill="#E08C12"/>
<circle cx="353.62" cy="370.50" r="0.85" fill="#E08C12"/>
<circle cx="364.69" cy="367.50" r="0.85" fill="#E08C12"/>
<circle cx="367.65" cy="367.50" r="0.85" fill="#E08C12"/>
<line x1="397.00" y1="380.30" x2="407.00" y2="380.30" stroke="#9C9CA8" stroke-width="1.2"/>
<circle cx="401.90" cy="380.30" r="2.1" fill="#9C9CA8"/>
<text x="410.20" y="383.10" font-size="7.6" text-anchor="start" fill="#333" font-weight="normal" textLength="43.30" lengthAdjust="spacingAndGlyphs" stroke="#333" stroke-width="0.14">non-targeting</text>
<line x1="397.00" y1="391.00" x2="407.00" y2="391.00" stroke="#E08C12" stroke-width="1.2"/>
<circle cx="401.90" cy="391.00" r="2.1" fill="#E08C12"/>
<text x="410.20" y="393.80" font-size="7.6" text-anchor="start" fill="#333" font-weight="normal" textLength="24.30" lengthAdjust="spacingAndGlyphs" stroke="#333" stroke-width="0.14">siBCL2</text>
<line x1="397.00" y1="402.90" x2="407.00" y2="402.90" stroke="#4E9DE0" stroke-width="1.2"/>
<circle cx="401.90" cy="402.90" r="2.1" fill="#4E9DE0"/>
<text x="410.20" y="405.70" font-size="7.6" text-anchor="start" fill="#333" font-weight="normal" textLength="29.30" lengthAdjust="spacingAndGlyphs" stroke="#333" stroke-width="0.14">siBCLXL</text>
<line x1="397.00" y1="414.00" x2="407.00" y2="414.00" stroke="#5DAA3C" stroke-width="1.2"/>
<circle cx="401.90" cy="414.00" r="2.1" fill="#5DAA3C"/>
<text x="410.20" y="416.80" font-size="7.6" text-anchor="start" fill="#333" font-weight="normal" textLength="64.80" lengthAdjust="spacingAndGlyphs" stroke="#333" stroke-width="0.14">siBCL2 + siBCLXL</text>
<rect x="41.07" y="230.78" width="70.45" height="8.75" fill="none" stroke="#111" stroke-width="1.35" rx="0.6"/>
<rect x="41.07" y="243.88" width="70.45" height="8.65" fill="none" stroke="#111" stroke-width="1.35" rx="0.6"/>
<rect x="41.07" y="258.18" width="70.45" height="8.45" fill="none" stroke="#111" stroke-width="1.35" rx="0.6"/>
<rect x="41.07" y="272.07" width="70.45" height="32.65" fill="none" stroke="#111" stroke-width="1.35" rx="0.6"/>
<rect x="122.58" y="231.38" width="70.65" height="8.35" fill="none" stroke="#111" stroke-width="1.35" rx="0.6"/>
<rect x="122.58" y="244.78" width="70.65" height="8.65" fill="none" stroke="#111" stroke-width="1.35" rx="0.6"/>
<rect x="122.58" y="257.98" width="70.65" height="8.55" fill="none" stroke="#111" stroke-width="1.35" rx="0.6"/>
<rect x="122.58" y="272.68" width="70.65" height="31.85" fill="none" stroke="#111" stroke-width="1.35" rx="0.6"/>
<rect x="202.78" y="231.28" width="69.95" height="8.15" fill="none" stroke="#111" stroke-width="1.35" rx="0.6"/>
<rect x="202.78" y="244.78" width="69.95" height="7.95" fill="none" stroke="#111" stroke-width="1.35" rx="0.6"/>
<rect x="202.78" y="258.88" width="69.95" height="8.15" fill="none" stroke="#111" stroke-width="1.35" rx="0.6"/>
<rect x="202.78" y="272.68" width="69.95" height="31.85" fill="none" stroke="#111" stroke-width="1.35" rx="0.6"/>
<rect x="323.28" y="251.48" width="67.15" height="8.35" fill="none" stroke="#111" stroke-width="1.35" rx="0.6"/>
<rect x="323.28" y="264.88" width="67.15" height="8.35" fill="none" stroke="#111" stroke-width="1.35" rx="0.6"/>
<rect x="323.28" y="278.68" width="67.15" height="7.55" fill="none" stroke="#111" stroke-width="1.35" rx="0.6"/>
<rect x="323.28" y="291.88" width="67.15" height="7.65" fill="none" stroke="#111" stroke-width="1.35" rx="0.6"/>
<rect x="398.07" y="251.48" width="67.25" height="8.55" fill="none" stroke="#111" stroke-width="1.35" rx="0.6"/>
<rect x="398.07" y="264.88" width="67.25" height="8.35" fill="none" stroke="#111" stroke-width="1.35" rx="0.6"/>
<rect x="398.07" y="278.68" width="67.25" height="7.95" fill="none" stroke="#111" stroke-width="1.35" rx="0.6"/>
<rect x="398.07" y="291.88" width="67.25" height="8.15" fill="none" stroke="#111" stroke-width="1.35" rx="0.6"/>
<rect x="1.5" y="1.5" width="517" height="493" fill="none" stroke="#000" stroke-opacity="0.22" stroke-width="1"/>
<rect x="0.5" y="0.5" width="519" height="495" fill="none" stroke="#000" stroke-width="1"/>
</svg>
</body></html>
